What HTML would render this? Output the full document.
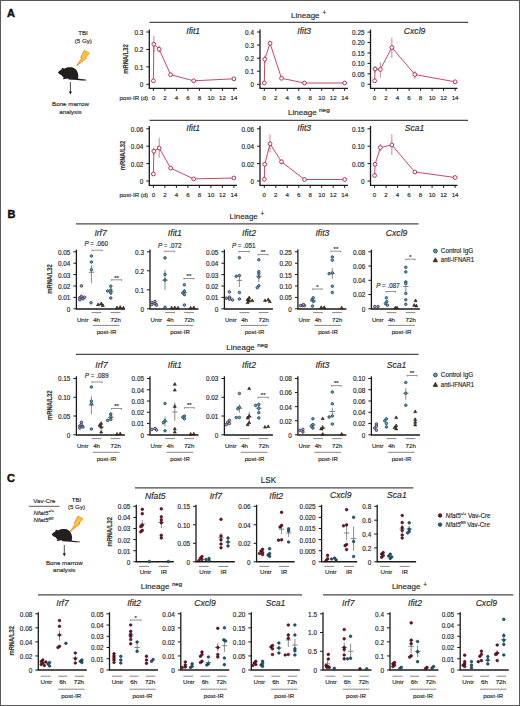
<!DOCTYPE html>
<html><head><meta charset="utf-8"><title>Figure</title>
<style>
html,body{margin:0;padding:0;background:#fff;width:520px;height:706px;overflow:hidden;}
svg{display:block;font-family:"Liberation Sans",sans-serif;}
svg text{stroke:#2b2b2b;stroke-width:0.16px;}
</style></head><body>
<svg width="520" height="706" viewBox="0 0 520 706" font-family='&quot;Liberation Sans&quot;, sans-serif'>
<rect x="0.5" y="0.5" width="519" height="705" fill="#ffffff" stroke="#5a5a5a" stroke-width="1"/>
<text x="7.1" y="16.9" font-size="11" text-anchor="start" fill="#111" font-weight="bold" style="stroke:#111;stroke-width:0.45px">A</text>
<text x="7.4" y="217.7" font-size="11" text-anchor="start" fill="#111" font-weight="bold" style="stroke:#111;stroke-width:0.45px">B</text>
<text x="7" y="482" font-size="11" text-anchor="start" fill="#111" font-weight="bold" style="stroke:#111;stroke-width:0.45px">C</text>
<text x="83" y="35.2" font-size="6.2" text-anchor="middle" fill="#2b2b2b">TBI</text>
<text x="83.3" y="43.2" font-size="6.2" text-anchor="middle" fill="#2b2b2b">(5 Gy)</text>
<g transform="translate(76.4 50.5) scale(1)"><polygon points="7.8,0 12.8,2.6 8.8,7.1 10.0,7.6 0.3,15.2 5.4,7.6 4.3,7.1" fill="#fcc436" stroke="#f08a1c" stroke-width="0.9" stroke-linejoin="round"/></g>
<g transform="translate(58 72.6) scale(1)"><path d="M0 0 C0.8 -1.4 2.2 -2.2 3.6 -3.0 L3.8 -4.3 C4.6 -4.8 5.6 -4.6 6.2 -3.9 C8.5 -5.2 11 -5.6 13.4 -5.3 C17 -4.8 19.6 -2.2 20.2 2.2 C20.5 3.6 20.3 5.0 19.8 6.0 C21.5 6.4 24 6.6 27.8 7.0 L28.4 7.9 C25 7.8 22 7.7 19.2 7.3 C16 7.3 13 7.1 10.5 6.9 L10.2 5.9 C9 6.0 7.6 6.1 6.6 6.3 L5.2 6.6 L4.9 5.9 L6.0 5.5 C5 4.6 4.2 3.6 3.6 2.6 C2.2 2.2 0.9 1.6 0 0 Z" fill="#231f20"/></g>
<line x1="70.4" y1="82" x2="70.4" y2="92.1" stroke="#222" stroke-width="0.8"/>
<polygon points="68.8,91.4 72,91.4 70.4,94.6" fill="#222"/>
<text x="70.5" y="106.2" font-size="6.2" text-anchor="middle" fill="#2b2b2b">Bone marrow</text>
<text x="70.5" y="114" font-size="6.2" text-anchor="middle" fill="#2b2b2b">analysis</text>
<text x="44.4" y="502.7" font-size="6.2" text-anchor="middle" fill="#2b2b2b">Vav-Cre</text>
<line x1="28.8" y1="506.3" x2="59.5" y2="506.3" stroke="#333" stroke-width="0.8"/>
<text x="33.6" y="514.6" font-size="6.2" font-style="italic" fill="#2b2b2b">Nfat5<tspan font-size="3.8" dy="-2.4" font-style="normal">+/+</tspan></text>
<text x="33.6" y="522.2" font-size="6.2" font-style="italic" fill="#2b2b2b">Nfat5<tspan font-size="3.8" dy="-2.4">fl/fl</tspan></text>
<text x="76.5" y="501.8" font-size="6.2" text-anchor="middle" fill="#2b2b2b">TBI</text>
<text x="76.5" y="509.3" font-size="6.2" text-anchor="middle" fill="#2b2b2b">(5 Gy)</text>
<g transform="translate(70 516.2) scale(1)"><polygon points="7.8,0 12.8,2.6 8.8,7.1 10.0,7.6 0.3,15.2 5.4,7.6 4.3,7.1" fill="#fcc436" stroke="#f08a1c" stroke-width="0.9" stroke-linejoin="round"/></g>
<g transform="translate(51.8 534.4) scale(1)"><path d="M0 0 C0.8 -1.4 2.2 -2.2 3.6 -3.0 L3.8 -4.3 C4.6 -4.8 5.6 -4.6 6.2 -3.9 C8.5 -5.2 11 -5.6 13.4 -5.3 C17 -4.8 19.6 -2.2 20.2 2.2 C20.5 3.6 20.3 5.0 19.8 6.0 C21.5 6.4 24 6.6 27.8 7.0 L28.4 7.9 C25 7.8 22 7.7 19.2 7.3 C16 7.3 13 7.1 10.5 6.9 L10.2 5.9 C9 6.0 7.6 6.1 6.6 6.3 L5.2 6.6 L4.9 5.9 L6.0 5.5 C5 4.6 4.2 3.6 3.6 2.6 C2.2 2.2 0.9 1.6 0 0 Z" fill="#231f20"/></g>
<line x1="64.3" y1="545" x2="64.3" y2="554" stroke="#222" stroke-width="0.8"/>
<polygon points="62.7,553.3 65.9,553.3 64.3,556.5" fill="#222"/>
<text x="64.3" y="564.8" font-size="6.2" text-anchor="middle" fill="#2b2b2b">Bone marrow</text>
<text x="64.3" y="572.3" font-size="6.2" text-anchor="middle" fill="#2b2b2b">analysis</text>
<line x1="149.5" y1="22.4" x2="468" y2="22.4" stroke="#4a4a4a" stroke-width="1.3"/>
<text x="291" y="17.6" font-size="8" text-anchor="start" fill="#2b2b2b" textLength="28.6" lengthAdjust="spacingAndGlyphs">Lineage</text>
<text x="322.4" y="15.2" font-size="6.5" text-anchor="start" fill="#2b2b2b">+</text>
<text x="0" y="0" font-size="6.6" font-weight="bold" fill="#3a3a3a" text-anchor="middle" textLength="29.5" lengthAdjust="spacingAndGlyphs" transform="translate(128.18 59) rotate(-90)">mRNA/L32</text>
<line x1="149.3" y1="29.6" x2="149.3" y2="88.3" stroke="#1a1a1a" stroke-width="1.3"/>
<line x1="146.3" y1="84.3" x2="149.3" y2="84.3" stroke="#1a1a1a" stroke-width="1"/>
<text x="143.3" y="87.2" font-size="6.4" text-anchor="end" fill="#2b2b2b">0</text>
<line x1="146.3" y1="66.87" x2="149.3" y2="66.87" stroke="#1a1a1a" stroke-width="1"/>
<text x="143.3" y="69.77" font-size="6.4" text-anchor="end" fill="#2b2b2b">0.1</text>
<line x1="146.3" y1="49.43" x2="149.3" y2="49.43" stroke="#1a1a1a" stroke-width="1"/>
<text x="143.3" y="52.34" font-size="6.4" text-anchor="end" fill="#2b2b2b">0.2</text>
<line x1="146.3" y1="32" x2="149.3" y2="32" stroke="#1a1a1a" stroke-width="1"/>
<text x="143.3" y="34.9" font-size="6.4" text-anchor="end" fill="#2b2b2b">0.3</text>
<line x1="148.7" y1="88.3" x2="237" y2="88.3" stroke="#1a1a1a" stroke-width="1.3"/>
<line x1="153.4" y1="88.3" x2="153.4" y2="90.9" stroke="#1a1a1a" stroke-width="1"/>
<text x="153.4" y="99.7" font-size="6.2" text-anchor="middle" fill="#2b2b2b">0</text>
<line x1="164.9" y1="88.3" x2="164.9" y2="90.9" stroke="#1a1a1a" stroke-width="1"/>
<text x="164.9" y="99.7" font-size="6.2" text-anchor="middle" fill="#2b2b2b">2</text>
<line x1="176.4" y1="88.3" x2="176.4" y2="90.9" stroke="#1a1a1a" stroke-width="1"/>
<text x="176.4" y="99.7" font-size="6.2" text-anchor="middle" fill="#2b2b2b">4</text>
<line x1="187.9" y1="88.3" x2="187.9" y2="90.9" stroke="#1a1a1a" stroke-width="1"/>
<text x="187.9" y="99.7" font-size="6.2" text-anchor="middle" fill="#2b2b2b">6</text>
<line x1="199.4" y1="88.3" x2="199.4" y2="90.9" stroke="#1a1a1a" stroke-width="1"/>
<text x="199.4" y="99.7" font-size="6.2" text-anchor="middle" fill="#2b2b2b">8</text>
<line x1="210.9" y1="88.3" x2="210.9" y2="90.9" stroke="#1a1a1a" stroke-width="1"/>
<text x="210.9" y="99.7" font-size="6.2" text-anchor="middle" fill="#2b2b2b">10</text>
<line x1="222.4" y1="88.3" x2="222.4" y2="90.9" stroke="#1a1a1a" stroke-width="1"/>
<text x="222.4" y="99.7" font-size="6.2" text-anchor="middle" fill="#2b2b2b">12</text>
<line x1="233.9" y1="88.3" x2="233.9" y2="90.9" stroke="#1a1a1a" stroke-width="1"/>
<text x="233.9" y="99.7" font-size="6.2" text-anchor="middle" fill="#2b2b2b">14</text>
<text x="148.1" y="99.7" font-size="6.2" text-anchor="end" fill="#2b2b2b" textLength="28.6" lengthAdjust="spacingAndGlyphs">post-IR (d)</text>
<text x="193.2" y="33.5" font-size="8.6" text-anchor="middle" fill="#2b2b2b" font-style="italic">Ifit1</text>
<line x1="153.86" y1="36" x2="153.86" y2="52.5" stroke="#b8707c" stroke-width="0.85"/>
<line x1="159.15" y1="45.5" x2="159.15" y2="52.7" stroke="#b8707c" stroke-width="0.85"/>
<polyline points="153.4,80.8 153.86,44.2 159.15,49.2 170.65,74.7 193.65,80.8 233.9,78.8" fill="none" stroke="#c2344e" stroke-width="0.9"/>
<circle cx="153.4" cy="80.8" r="1.9" fill="#ffffff" stroke="#b52a44" stroke-width="0.95"/>
<circle cx="153.86" cy="44.2" r="1.9" fill="#ffffff" stroke="#b52a44" stroke-width="0.95"/>
<circle cx="159.15" cy="49.2" r="1.9" fill="#ffffff" stroke="#b52a44" stroke-width="0.95"/>
<circle cx="170.65" cy="74.7" r="1.9" fill="#ffffff" stroke="#b52a44" stroke-width="0.95"/>
<circle cx="193.65" cy="80.8" r="1.9" fill="#ffffff" stroke="#b52a44" stroke-width="0.95"/>
<circle cx="233.9" cy="78.8" r="1.9" fill="#ffffff" stroke="#b52a44" stroke-width="0.95"/>
<line x1="260" y1="29.6" x2="260" y2="88.3" stroke="#1a1a1a" stroke-width="1.3"/>
<line x1="257" y1="84.3" x2="260" y2="84.3" stroke="#1a1a1a" stroke-width="1"/>
<text x="254" y="87.2" font-size="6.4" text-anchor="end" fill="#2b2b2b">0</text>
<line x1="257" y1="71.22" x2="260" y2="71.22" stroke="#1a1a1a" stroke-width="1"/>
<text x="254" y="74.13" font-size="6.4" text-anchor="end" fill="#2b2b2b">0.1</text>
<line x1="257" y1="58.15" x2="260" y2="58.15" stroke="#1a1a1a" stroke-width="1"/>
<text x="254" y="61.05" font-size="6.4" text-anchor="end" fill="#2b2b2b">0.2</text>
<line x1="257" y1="45.08" x2="260" y2="45.08" stroke="#1a1a1a" stroke-width="1"/>
<text x="254" y="47.98" font-size="6.4" text-anchor="end" fill="#2b2b2b">0.3</text>
<line x1="257" y1="32" x2="260" y2="32" stroke="#1a1a1a" stroke-width="1"/>
<text x="254" y="34.9" font-size="6.4" text-anchor="end" fill="#2b2b2b">0.4</text>
<line x1="259.4" y1="88.3" x2="348" y2="88.3" stroke="#1a1a1a" stroke-width="1.3"/>
<line x1="264.3" y1="88.3" x2="264.3" y2="90.9" stroke="#1a1a1a" stroke-width="1"/>
<text x="264.3" y="99.7" font-size="6.2" text-anchor="middle" fill="#2b2b2b">0</text>
<line x1="275.78" y1="88.3" x2="275.78" y2="90.9" stroke="#1a1a1a" stroke-width="1"/>
<text x="275.78" y="99.7" font-size="6.2" text-anchor="middle" fill="#2b2b2b">2</text>
<line x1="287.26" y1="88.3" x2="287.26" y2="90.9" stroke="#1a1a1a" stroke-width="1"/>
<text x="287.26" y="99.7" font-size="6.2" text-anchor="middle" fill="#2b2b2b">4</text>
<line x1="298.74" y1="88.3" x2="298.74" y2="90.9" stroke="#1a1a1a" stroke-width="1"/>
<text x="298.74" y="99.7" font-size="6.2" text-anchor="middle" fill="#2b2b2b">6</text>
<line x1="310.22" y1="88.3" x2="310.22" y2="90.9" stroke="#1a1a1a" stroke-width="1"/>
<text x="310.22" y="99.7" font-size="6.2" text-anchor="middle" fill="#2b2b2b">8</text>
<line x1="321.7" y1="88.3" x2="321.7" y2="90.9" stroke="#1a1a1a" stroke-width="1"/>
<text x="321.7" y="99.7" font-size="6.2" text-anchor="middle" fill="#2b2b2b">10</text>
<line x1="333.18" y1="88.3" x2="333.18" y2="90.9" stroke="#1a1a1a" stroke-width="1"/>
<text x="333.18" y="99.7" font-size="6.2" text-anchor="middle" fill="#2b2b2b">12</text>
<line x1="344.66" y1="88.3" x2="344.66" y2="90.9" stroke="#1a1a1a" stroke-width="1"/>
<text x="344.66" y="99.7" font-size="6.2" text-anchor="middle" fill="#2b2b2b">14</text>
<text x="304.2" y="33.5" font-size="8.6" text-anchor="middle" fill="#2b2b2b" font-style="italic">Ifit3</text>
<line x1="264.76" y1="55.5" x2="264.76" y2="63" stroke="#b8707c" stroke-width="0.85"/>
<line x1="270.04" y1="40.5" x2="270.04" y2="46" stroke="#b8707c" stroke-width="0.85"/>
<polyline points="264.3,83 264.76,59.3 270.04,43.3 281.52,78.3 304.48,83 344.66,83" fill="none" stroke="#c2344e" stroke-width="0.9"/>
<circle cx="264.3" cy="83" r="1.9" fill="#ffffff" stroke="#b52a44" stroke-width="0.95"/>
<circle cx="264.76" cy="59.3" r="1.9" fill="#ffffff" stroke="#b52a44" stroke-width="0.95"/>
<circle cx="270.04" cy="43.3" r="1.9" fill="#ffffff" stroke="#b52a44" stroke-width="0.95"/>
<circle cx="281.52" cy="78.3" r="1.9" fill="#ffffff" stroke="#b52a44" stroke-width="0.95"/>
<circle cx="304.48" cy="83" r="1.9" fill="#ffffff" stroke="#b52a44" stroke-width="0.95"/>
<circle cx="344.66" cy="83" r="1.9" fill="#ffffff" stroke="#b52a44" stroke-width="0.95"/>
<line x1="370.5" y1="29.6" x2="370.5" y2="88.3" stroke="#1a1a1a" stroke-width="1.3"/>
<line x1="367.5" y1="84.3" x2="370.5" y2="84.3" stroke="#1a1a1a" stroke-width="1"/>
<text x="364.5" y="87.2" font-size="6.4" text-anchor="end" fill="#2b2b2b">0</text>
<line x1="367.5" y1="73.86" x2="370.5" y2="73.86" stroke="#1a1a1a" stroke-width="1"/>
<text x="364.5" y="76.76" font-size="6.4" text-anchor="end" fill="#2b2b2b">0.05</text>
<line x1="367.5" y1="63.42" x2="370.5" y2="63.42" stroke="#1a1a1a" stroke-width="1"/>
<text x="364.5" y="66.32" font-size="6.4" text-anchor="end" fill="#2b2b2b">0.10</text>
<line x1="367.5" y1="52.98" x2="370.5" y2="52.98" stroke="#1a1a1a" stroke-width="1"/>
<text x="364.5" y="55.88" font-size="6.4" text-anchor="end" fill="#2b2b2b">0.15</text>
<line x1="367.5" y1="42.54" x2="370.5" y2="42.54" stroke="#1a1a1a" stroke-width="1"/>
<text x="364.5" y="45.44" font-size="6.4" text-anchor="end" fill="#2b2b2b">0.20</text>
<line x1="367.5" y1="32.1" x2="370.5" y2="32.1" stroke="#1a1a1a" stroke-width="1"/>
<text x="364.5" y="35" font-size="6.4" text-anchor="end" fill="#2b2b2b">0.25</text>
<line x1="369.9" y1="88.3" x2="457.5" y2="88.3" stroke="#1a1a1a" stroke-width="1.3"/>
<line x1="374.6" y1="88.3" x2="374.6" y2="90.9" stroke="#1a1a1a" stroke-width="1"/>
<text x="374.6" y="99.7" font-size="6.2" text-anchor="middle" fill="#2b2b2b">0</text>
<line x1="386.1" y1="88.3" x2="386.1" y2="90.9" stroke="#1a1a1a" stroke-width="1"/>
<text x="386.1" y="99.7" font-size="6.2" text-anchor="middle" fill="#2b2b2b">2</text>
<line x1="397.6" y1="88.3" x2="397.6" y2="90.9" stroke="#1a1a1a" stroke-width="1"/>
<text x="397.6" y="99.7" font-size="6.2" text-anchor="middle" fill="#2b2b2b">4</text>
<line x1="409.1" y1="88.3" x2="409.1" y2="90.9" stroke="#1a1a1a" stroke-width="1"/>
<text x="409.1" y="99.7" font-size="6.2" text-anchor="middle" fill="#2b2b2b">6</text>
<line x1="420.6" y1="88.3" x2="420.6" y2="90.9" stroke="#1a1a1a" stroke-width="1"/>
<text x="420.6" y="99.7" font-size="6.2" text-anchor="middle" fill="#2b2b2b">8</text>
<line x1="432.1" y1="88.3" x2="432.1" y2="90.9" stroke="#1a1a1a" stroke-width="1"/>
<text x="432.1" y="99.7" font-size="6.2" text-anchor="middle" fill="#2b2b2b">10</text>
<line x1="443.6" y1="88.3" x2="443.6" y2="90.9" stroke="#1a1a1a" stroke-width="1"/>
<text x="443.6" y="99.7" font-size="6.2" text-anchor="middle" fill="#2b2b2b">12</text>
<line x1="455.1" y1="88.3" x2="455.1" y2="90.9" stroke="#1a1a1a" stroke-width="1"/>
<text x="455.1" y="99.7" font-size="6.2" text-anchor="middle" fill="#2b2b2b">14</text>
<text x="414.6" y="33.5" font-size="8.6" text-anchor="middle" fill="#2b2b2b" font-style="italic">Cxcl9</text>
<line x1="375.06" y1="66" x2="375.06" y2="72.5" stroke="#b8707c" stroke-width="0.85"/>
<line x1="380.35" y1="62.5" x2="380.35" y2="77.5" stroke="#b8707c" stroke-width="0.85"/>
<line x1="391.85" y1="37.8" x2="391.85" y2="57.8" stroke="#b8707c" stroke-width="0.85"/>
<line x1="414.85" y1="71" x2="414.85" y2="79" stroke="#b8707c" stroke-width="0.85"/>
<polyline points="374.6,80.8 375.06,69 380.35,69.5 391.85,47.5 414.85,74.5 455.1,81.8" fill="none" stroke="#c2344e" stroke-width="0.9"/>
<circle cx="374.6" cy="80.8" r="1.9" fill="#ffffff" stroke="#b52a44" stroke-width="0.95"/>
<circle cx="375.06" cy="69" r="1.9" fill="#ffffff" stroke="#b52a44" stroke-width="0.95"/>
<circle cx="380.35" cy="69.5" r="1.9" fill="#ffffff" stroke="#b52a44" stroke-width="0.95"/>
<circle cx="391.85" cy="47.5" r="1.9" fill="#ffffff" stroke="#b52a44" stroke-width="0.95"/>
<circle cx="414.85" cy="74.5" r="1.9" fill="#ffffff" stroke="#b52a44" stroke-width="0.95"/>
<circle cx="455.1" cy="81.8" r="1.9" fill="#ffffff" stroke="#b52a44" stroke-width="0.95"/>
<line x1="149.5" y1="120.3" x2="468" y2="120.3" stroke="#4a4a4a" stroke-width="1.3"/>
<text x="288.1" y="115.1" font-size="8" text-anchor="start" fill="#2b2b2b" textLength="28.6" lengthAdjust="spacingAndGlyphs">Lineage</text>
<text x="319.1" y="112.1" font-size="5" text-anchor="start" fill="#2b2b2b" textLength="10.6" lengthAdjust="spacingAndGlyphs">neg</text>
<text x="0" y="0" font-size="6.6" font-weight="bold" fill="#3a3a3a" text-anchor="middle" textLength="29.5" lengthAdjust="spacingAndGlyphs" transform="translate(124.78 155.5) rotate(-90)">mRNA/L32</text>
<line x1="149.3" y1="126" x2="149.3" y2="185.3" stroke="#1a1a1a" stroke-width="1.3"/>
<line x1="146.3" y1="181" x2="149.3" y2="181" stroke="#1a1a1a" stroke-width="1"/>
<text x="143.3" y="183.9" font-size="6.4" text-anchor="end" fill="#2b2b2b">0</text>
<line x1="146.3" y1="163.6" x2="149.3" y2="163.6" stroke="#1a1a1a" stroke-width="1"/>
<text x="143.3" y="166.5" font-size="6.4" text-anchor="end" fill="#2b2b2b">0.02</text>
<line x1="146.3" y1="146.2" x2="149.3" y2="146.2" stroke="#1a1a1a" stroke-width="1"/>
<text x="143.3" y="149.1" font-size="6.4" text-anchor="end" fill="#2b2b2b">0.04</text>
<line x1="146.3" y1="128.8" x2="149.3" y2="128.8" stroke="#1a1a1a" stroke-width="1"/>
<text x="143.3" y="131.7" font-size="6.4" text-anchor="end" fill="#2b2b2b">0.06</text>
<line x1="148.7" y1="185.3" x2="237" y2="185.3" stroke="#1a1a1a" stroke-width="1.3"/>
<line x1="153.4" y1="185.3" x2="153.4" y2="187.9" stroke="#1a1a1a" stroke-width="1"/>
<text x="153.4" y="196.7" font-size="6.2" text-anchor="middle" fill="#2b2b2b">0</text>
<line x1="164.9" y1="185.3" x2="164.9" y2="187.9" stroke="#1a1a1a" stroke-width="1"/>
<text x="164.9" y="196.7" font-size="6.2" text-anchor="middle" fill="#2b2b2b">2</text>
<line x1="176.4" y1="185.3" x2="176.4" y2="187.9" stroke="#1a1a1a" stroke-width="1"/>
<text x="176.4" y="196.7" font-size="6.2" text-anchor="middle" fill="#2b2b2b">4</text>
<line x1="187.9" y1="185.3" x2="187.9" y2="187.9" stroke="#1a1a1a" stroke-width="1"/>
<text x="187.9" y="196.7" font-size="6.2" text-anchor="middle" fill="#2b2b2b">6</text>
<line x1="199.4" y1="185.3" x2="199.4" y2="187.9" stroke="#1a1a1a" stroke-width="1"/>
<text x="199.4" y="196.7" font-size="6.2" text-anchor="middle" fill="#2b2b2b">8</text>
<line x1="210.9" y1="185.3" x2="210.9" y2="187.9" stroke="#1a1a1a" stroke-width="1"/>
<text x="210.9" y="196.7" font-size="6.2" text-anchor="middle" fill="#2b2b2b">10</text>
<line x1="222.4" y1="185.3" x2="222.4" y2="187.9" stroke="#1a1a1a" stroke-width="1"/>
<text x="222.4" y="196.7" font-size="6.2" text-anchor="middle" fill="#2b2b2b">12</text>
<line x1="233.9" y1="185.3" x2="233.9" y2="187.9" stroke="#1a1a1a" stroke-width="1"/>
<text x="233.9" y="196.7" font-size="6.2" text-anchor="middle" fill="#2b2b2b">14</text>
<text x="148.1" y="196.7" font-size="6.2" text-anchor="end" fill="#2b2b2b" textLength="28.6" lengthAdjust="spacingAndGlyphs">post-IR (d)</text>
<text x="193.2" y="130.9" font-size="8.6" text-anchor="middle" fill="#2b2b2b" font-style="italic">Ifit1</text>
<line x1="153.86" y1="147.5" x2="153.86" y2="155" stroke="#b8707c" stroke-width="0.85"/>
<line x1="159.15" y1="137.7" x2="159.15" y2="157.9" stroke="#b8707c" stroke-width="0.85"/>
<line x1="170.65" y1="166.3" x2="170.65" y2="170" stroke="#b8707c" stroke-width="0.85"/>
<polyline points="153.4,174 153.86,151.2 159.15,148 170.65,168.1 193.65,178.9 233.9,178" fill="none" stroke="#c2344e" stroke-width="0.9"/>
<circle cx="153.4" cy="174" r="1.9" fill="#ffffff" stroke="#b52a44" stroke-width="0.95"/>
<circle cx="153.86" cy="151.2" r="1.9" fill="#ffffff" stroke="#b52a44" stroke-width="0.95"/>
<circle cx="159.15" cy="148" r="1.9" fill="#ffffff" stroke="#b52a44" stroke-width="0.95"/>
<circle cx="170.65" cy="168.1" r="1.9" fill="#ffffff" stroke="#b52a44" stroke-width="0.95"/>
<circle cx="193.65" cy="178.9" r="1.9" fill="#ffffff" stroke="#b52a44" stroke-width="0.95"/>
<circle cx="233.9" cy="178" r="1.9" fill="#ffffff" stroke="#b52a44" stroke-width="0.95"/>
<line x1="260" y1="126" x2="260" y2="185.3" stroke="#1a1a1a" stroke-width="1.3"/>
<line x1="257" y1="181" x2="260" y2="181" stroke="#1a1a1a" stroke-width="1"/>
<text x="254" y="183.9" font-size="6.4" text-anchor="end" fill="#2b2b2b">0</text>
<line x1="257" y1="163.6" x2="260" y2="163.6" stroke="#1a1a1a" stroke-width="1"/>
<text x="254" y="166.5" font-size="6.4" text-anchor="end" fill="#2b2b2b">0.02</text>
<line x1="257" y1="146.2" x2="260" y2="146.2" stroke="#1a1a1a" stroke-width="1"/>
<text x="254" y="149.1" font-size="6.4" text-anchor="end" fill="#2b2b2b">0.04</text>
<line x1="257" y1="128.8" x2="260" y2="128.8" stroke="#1a1a1a" stroke-width="1"/>
<text x="254" y="131.7" font-size="6.4" text-anchor="end" fill="#2b2b2b">0.06</text>
<line x1="259.4" y1="185.3" x2="348" y2="185.3" stroke="#1a1a1a" stroke-width="1.3"/>
<line x1="264.3" y1="185.3" x2="264.3" y2="187.9" stroke="#1a1a1a" stroke-width="1"/>
<text x="264.3" y="196.7" font-size="6.2" text-anchor="middle" fill="#2b2b2b">0</text>
<line x1="275.78" y1="185.3" x2="275.78" y2="187.9" stroke="#1a1a1a" stroke-width="1"/>
<text x="275.78" y="196.7" font-size="6.2" text-anchor="middle" fill="#2b2b2b">2</text>
<line x1="287.26" y1="185.3" x2="287.26" y2="187.9" stroke="#1a1a1a" stroke-width="1"/>
<text x="287.26" y="196.7" font-size="6.2" text-anchor="middle" fill="#2b2b2b">4</text>
<line x1="298.74" y1="185.3" x2="298.74" y2="187.9" stroke="#1a1a1a" stroke-width="1"/>
<text x="298.74" y="196.7" font-size="6.2" text-anchor="middle" fill="#2b2b2b">6</text>
<line x1="310.22" y1="185.3" x2="310.22" y2="187.9" stroke="#1a1a1a" stroke-width="1"/>
<text x="310.22" y="196.7" font-size="6.2" text-anchor="middle" fill="#2b2b2b">8</text>
<line x1="321.7" y1="185.3" x2="321.7" y2="187.9" stroke="#1a1a1a" stroke-width="1"/>
<text x="321.7" y="196.7" font-size="6.2" text-anchor="middle" fill="#2b2b2b">10</text>
<line x1="333.18" y1="185.3" x2="333.18" y2="187.9" stroke="#1a1a1a" stroke-width="1"/>
<text x="333.18" y="196.7" font-size="6.2" text-anchor="middle" fill="#2b2b2b">12</text>
<line x1="344.66" y1="185.3" x2="344.66" y2="187.9" stroke="#1a1a1a" stroke-width="1"/>
<text x="344.66" y="196.7" font-size="6.2" text-anchor="middle" fill="#2b2b2b">14</text>
<text x="304.2" y="130.9" font-size="8.6" text-anchor="middle" fill="#2b2b2b" font-style="italic">Ifit3</text>
<line x1="264.76" y1="162" x2="264.76" y2="166.5" stroke="#b8707c" stroke-width="0.85"/>
<line x1="270.04" y1="134.5" x2="270.04" y2="152.5" stroke="#b8707c" stroke-width="0.85"/>
<line x1="281.52" y1="159.5" x2="281.52" y2="164.5" stroke="#b8707c" stroke-width="0.85"/>
<polyline points="264.3,179.3 264.76,164.3 270.04,143.8 281.52,161.8 304.48,179.5 344.66,179.5" fill="none" stroke="#c2344e" stroke-width="0.9"/>
<circle cx="264.3" cy="179.3" r="1.9" fill="#ffffff" stroke="#b52a44" stroke-width="0.95"/>
<circle cx="264.76" cy="164.3" r="1.9" fill="#ffffff" stroke="#b52a44" stroke-width="0.95"/>
<circle cx="270.04" cy="143.8" r="1.9" fill="#ffffff" stroke="#b52a44" stroke-width="0.95"/>
<circle cx="281.52" cy="161.8" r="1.9" fill="#ffffff" stroke="#b52a44" stroke-width="0.95"/>
<circle cx="304.48" cy="179.5" r="1.9" fill="#ffffff" stroke="#b52a44" stroke-width="0.95"/>
<circle cx="344.66" cy="179.5" r="1.9" fill="#ffffff" stroke="#b52a44" stroke-width="0.95"/>
<line x1="370.5" y1="126" x2="370.5" y2="185.3" stroke="#1a1a1a" stroke-width="1.3"/>
<line x1="367.5" y1="181" x2="370.5" y2="181" stroke="#1a1a1a" stroke-width="1"/>
<text x="364.5" y="183.9" font-size="6.4" text-anchor="end" fill="#2b2b2b">0</text>
<line x1="367.5" y1="163.6" x2="370.5" y2="163.6" stroke="#1a1a1a" stroke-width="1"/>
<text x="364.5" y="166.5" font-size="6.4" text-anchor="end" fill="#2b2b2b">0.05</text>
<line x1="367.5" y1="146.2" x2="370.5" y2="146.2" stroke="#1a1a1a" stroke-width="1"/>
<text x="364.5" y="149.1" font-size="6.4" text-anchor="end" fill="#2b2b2b">0.10</text>
<line x1="367.5" y1="128.8" x2="370.5" y2="128.8" stroke="#1a1a1a" stroke-width="1"/>
<text x="364.5" y="131.7" font-size="6.4" text-anchor="end" fill="#2b2b2b">0.15</text>
<line x1="369.9" y1="185.3" x2="457.5" y2="185.3" stroke="#1a1a1a" stroke-width="1.3"/>
<line x1="374.6" y1="185.3" x2="374.6" y2="187.9" stroke="#1a1a1a" stroke-width="1"/>
<text x="374.6" y="196.7" font-size="6.2" text-anchor="middle" fill="#2b2b2b">0</text>
<line x1="386.1" y1="185.3" x2="386.1" y2="187.9" stroke="#1a1a1a" stroke-width="1"/>
<text x="386.1" y="196.7" font-size="6.2" text-anchor="middle" fill="#2b2b2b">2</text>
<line x1="397.6" y1="185.3" x2="397.6" y2="187.9" stroke="#1a1a1a" stroke-width="1"/>
<text x="397.6" y="196.7" font-size="6.2" text-anchor="middle" fill="#2b2b2b">4</text>
<line x1="409.1" y1="185.3" x2="409.1" y2="187.9" stroke="#1a1a1a" stroke-width="1"/>
<text x="409.1" y="196.7" font-size="6.2" text-anchor="middle" fill="#2b2b2b">6</text>
<line x1="420.6" y1="185.3" x2="420.6" y2="187.9" stroke="#1a1a1a" stroke-width="1"/>
<text x="420.6" y="196.7" font-size="6.2" text-anchor="middle" fill="#2b2b2b">8</text>
<line x1="432.1" y1="185.3" x2="432.1" y2="187.9" stroke="#1a1a1a" stroke-width="1"/>
<text x="432.1" y="196.7" font-size="6.2" text-anchor="middle" fill="#2b2b2b">10</text>
<line x1="443.6" y1="185.3" x2="443.6" y2="187.9" stroke="#1a1a1a" stroke-width="1"/>
<text x="443.6" y="196.7" font-size="6.2" text-anchor="middle" fill="#2b2b2b">12</text>
<line x1="455.1" y1="185.3" x2="455.1" y2="187.9" stroke="#1a1a1a" stroke-width="1"/>
<text x="455.1" y="196.7" font-size="6.2" text-anchor="middle" fill="#2b2b2b">14</text>
<text x="414.6" y="130.9" font-size="8.6" text-anchor="middle" fill="#2b2b2b" font-style="italic">Sca1</text>
<line x1="380.35" y1="143.8" x2="380.35" y2="151.3" stroke="#b8707c" stroke-width="0.85"/>
<line x1="391.85" y1="134.3" x2="391.85" y2="155" stroke="#b8707c" stroke-width="0.85"/>
<line x1="414.85" y1="170" x2="414.85" y2="174" stroke="#b8707c" stroke-width="0.85"/>
<polyline points="374.6,175.5 375.06,164.3 380.35,147.5 391.85,145 414.85,172 455.1,177.5" fill="none" stroke="#c2344e" stroke-width="0.9"/>
<circle cx="374.6" cy="175.5" r="1.9" fill="#ffffff" stroke="#b52a44" stroke-width="0.95"/>
<circle cx="375.06" cy="164.3" r="1.9" fill="#ffffff" stroke="#b52a44" stroke-width="0.95"/>
<circle cx="380.35" cy="147.5" r="1.9" fill="#ffffff" stroke="#b52a44" stroke-width="0.95"/>
<circle cx="391.85" cy="145" r="1.9" fill="#ffffff" stroke="#b52a44" stroke-width="0.95"/>
<circle cx="414.85" cy="172" r="1.9" fill="#ffffff" stroke="#b52a44" stroke-width="0.95"/>
<circle cx="455.1" cy="177.5" r="1.9" fill="#ffffff" stroke="#b52a44" stroke-width="0.95"/>
<line x1="76" y1="223.9" x2="418.5" y2="223.9" stroke="#4a4a4a" stroke-width="1.3"/>
<text x="229.6" y="218.6" font-size="8" text-anchor="start" fill="#2b2b2b" textLength="28.1" lengthAdjust="spacingAndGlyphs">Lineage</text>
<text x="260.6" y="216" font-size="6.5" text-anchor="start" fill="#2b2b2b">+</text>
<text x="0" y="0" font-size="6.6" font-weight="bold" fill="#3a3a3a" text-anchor="middle" textLength="29.5" lengthAdjust="spacingAndGlyphs" transform="translate(52.18 279) rotate(-90)">mRNA/L32</text>
<line x1="76.4" y1="249.6" x2="76.4" y2="308.8" stroke="#1a1a1a" stroke-width="1.3"/>
<line x1="73.4" y1="308.8" x2="76.4" y2="308.8" stroke="#1a1a1a" stroke-width="1"/>
<text x="70.4" y="311.7" font-size="6.4" text-anchor="end" fill="#2b2b2b">0</text>
<line x1="73.4" y1="297.4" x2="76.4" y2="297.4" stroke="#1a1a1a" stroke-width="1"/>
<text x="70.4" y="300.3" font-size="6.4" text-anchor="end" fill="#2b2b2b">0.01</text>
<line x1="73.4" y1="286" x2="76.4" y2="286" stroke="#1a1a1a" stroke-width="1"/>
<text x="70.4" y="288.9" font-size="6.4" text-anchor="end" fill="#2b2b2b">0.02</text>
<line x1="73.4" y1="274.6" x2="76.4" y2="274.6" stroke="#1a1a1a" stroke-width="1"/>
<text x="70.4" y="277.5" font-size="6.4" text-anchor="end" fill="#2b2b2b">0.03</text>
<line x1="73.4" y1="263.2" x2="76.4" y2="263.2" stroke="#1a1a1a" stroke-width="1"/>
<text x="70.4" y="266.1" font-size="6.4" text-anchor="end" fill="#2b2b2b">0.04</text>
<line x1="73.4" y1="251.8" x2="76.4" y2="251.8" stroke="#1a1a1a" stroke-width="1"/>
<text x="70.4" y="254.7" font-size="6.4" text-anchor="end" fill="#2b2b2b">0.05</text>
<line x1="75.8" y1="309" x2="124.9" y2="309" stroke="#1a1a1a" stroke-width="1.4"/>
<text x="100.6" y="235.6" font-size="8.6" text-anchor="middle" fill="#2b2b2b" font-style="italic">Irf7</text>
<line x1="81.4" y1="294.5" x2="81.4" y2="299.5" stroke="#6e6e6e" stroke-width="0.8"/>
<line x1="78.6" y1="297" x2="84.2" y2="297" stroke="#6e6e6e" stroke-width="0.8"/>
<circle cx="81.4" cy="285.9" r="1.3" fill="#aaa4c4" stroke="#2c2846" stroke-width="0.75"/>
<circle cx="81.4" cy="296.5" r="1.3" fill="#aaa4c4" stroke="#2c2846" stroke-width="0.75"/>
<circle cx="79.81" cy="297.8" r="1.3" fill="#aaa4c4" stroke="#2c2846" stroke-width="0.75"/>
<circle cx="82.99" cy="298.8" r="1.3" fill="#aaa4c4" stroke="#2c2846" stroke-width="0.75"/>
<circle cx="79.81" cy="299.8" r="1.3" fill="#aaa4c4" stroke="#2c2846" stroke-width="0.75"/>
<circle cx="84.57" cy="297.2" r="1.3" fill="#aaa4c4" stroke="#2c2846" stroke-width="0.75"/>
<line x1="91.4" y1="265.4" x2="91.4" y2="283.3" stroke="#6e6e6e" stroke-width="0.8"/>
<line x1="88.6" y1="272.3" x2="94.2" y2="272.3" stroke="#6e6e6e" stroke-width="0.8"/>
<circle cx="91.4" cy="256" r="1.3" fill="#5f9cb8" stroke="#1b4252" stroke-width="0.75"/>
<circle cx="91.4" cy="262" r="1.3" fill="#5f9cb8" stroke="#1b4252" stroke-width="0.75"/>
<circle cx="91.4" cy="269.7" r="1.3" fill="#5f9cb8" stroke="#1b4252" stroke-width="0.75"/>
<circle cx="91" cy="302.8" r="1.3" fill="#5f9cb8" stroke="#1b4252" stroke-width="0.75"/>
<line x1="101.2" y1="302.5" x2="101.2" y2="306" stroke="#6e6e6e" stroke-width="0.8"/>
<line x1="98.4" y1="304.3" x2="104" y2="304.3" stroke="#6e6e6e" stroke-width="0.8"/>
<polygon points="101.2,301.98 99.7,304.68 102.7,304.68" fill="#533522" stroke="#20140a" stroke-width="0.6" stroke-linejoin="round"/>
<polygon points="98.03,302.98 96.53,305.68 99.53,305.68" fill="#533522" stroke="#20140a" stroke-width="0.6" stroke-linejoin="round"/>
<polygon points="102.79,303.88 101.29,306.58 104.29,306.58" fill="#533522" stroke="#20140a" stroke-width="0.6" stroke-linejoin="round"/>
<line x1="110.8" y1="288.5" x2="110.8" y2="295" stroke="#6e6e6e" stroke-width="0.8"/>
<line x1="108" y1="291.6" x2="113.6" y2="291.6" stroke="#6e6e6e" stroke-width="0.8"/>
<circle cx="110.8" cy="286.2" r="1.3" fill="#5f9cb8" stroke="#1b4252" stroke-width="0.75"/>
<circle cx="110.8" cy="290" r="1.3" fill="#5f9cb8" stroke="#1b4252" stroke-width="0.75"/>
<circle cx="107.63" cy="291" r="1.3" fill="#5f9cb8" stroke="#1b4252" stroke-width="0.75"/>
<circle cx="110.8" cy="292.9" r="1.3" fill="#5f9cb8" stroke="#1b4252" stroke-width="0.75"/>
<circle cx="110.8" cy="298" r="1.3" fill="#5f9cb8" stroke="#1b4252" stroke-width="0.75"/>
<polygon points="120.2,305.58 118.7,308.28 121.7,308.28" fill="#533522" stroke="#20140a" stroke-width="0.6" stroke-linejoin="round"/>
<polygon points="117.03,305.98 115.53,308.68 118.53,308.68" fill="#533522" stroke="#20140a" stroke-width="0.6" stroke-linejoin="round"/>
<polygon points="123.37,306.28 121.87,308.98 124.87,308.98" fill="#533522" stroke="#20140a" stroke-width="0.6" stroke-linejoin="round"/>
<text x="82.7" y="321.8" font-size="6.1" text-anchor="middle" fill="#2b2b2b">Untr</text>
<text x="96.6" y="321.8" font-size="6.1" text-anchor="middle" fill="#2b2b2b">4h</text>
<text x="115.7" y="321.8" font-size="6.1" text-anchor="middle" fill="#2b2b2b">72h</text>
<line x1="91.6" y1="312.6" x2="101.4" y2="312.6" stroke="#7a7a7a" stroke-width="0.9"/>
<line x1="110.6" y1="312.6" x2="120.4" y2="312.6" stroke="#7a7a7a" stroke-width="0.9"/>
<line x1="92.8" y1="325.4" x2="119.6" y2="325.4" stroke="#7a7a7a" stroke-width="0.9"/>
<text x="106.5" y="334" font-size="6.1" text-anchor="middle" fill="#2b2b2b">post-IR</text>
<line x1="91.6" y1="250.2" x2="102.4" y2="250.2" stroke="#7a7a7a" stroke-width="0.8"/>
<line x1="92" y1="249.9" x2="92" y2="251.3" stroke="#7a7a7a" stroke-width="0.8"/>
<line x1="102" y1="249.9" x2="102" y2="251.3" stroke="#7a7a7a" stroke-width="0.8"/>
<line x1="111.2" y1="279.8" x2="122" y2="279.8" stroke="#7a7a7a" stroke-width="0.8"/>
<line x1="111.6" y1="279.5" x2="111.6" y2="280.9" stroke="#7a7a7a" stroke-width="0.8"/>
<line x1="121.6" y1="279.5" x2="121.6" y2="280.9" stroke="#7a7a7a" stroke-width="0.8"/>
<text x="116.6" y="279.5" font-size="6" text-anchor="middle" fill="#333">**</text>
<text x="96.2" y="246" font-size="6.3" text-anchor="middle" fill="#2b2b2b"><tspan font-style="italic">P</tspan> = .060</text>
<line x1="150" y1="249.6" x2="150" y2="308.8" stroke="#1a1a1a" stroke-width="1.3"/>
<line x1="147" y1="308.8" x2="150" y2="308.8" stroke="#1a1a1a" stroke-width="1"/>
<text x="144" y="311.7" font-size="6.4" text-anchor="end" fill="#2b2b2b">0</text>
<line x1="147" y1="289.8" x2="150" y2="289.8" stroke="#1a1a1a" stroke-width="1"/>
<text x="144" y="292.7" font-size="6.4" text-anchor="end" fill="#2b2b2b">0.1</text>
<line x1="147" y1="270.8" x2="150" y2="270.8" stroke="#1a1a1a" stroke-width="1"/>
<text x="144" y="273.7" font-size="6.4" text-anchor="end" fill="#2b2b2b">0.2</text>
<line x1="147" y1="251.8" x2="150" y2="251.8" stroke="#1a1a1a" stroke-width="1"/>
<text x="144" y="254.7" font-size="6.4" text-anchor="end" fill="#2b2b2b">0.3</text>
<line x1="149.4" y1="309" x2="198.5" y2="309" stroke="#1a1a1a" stroke-width="1.4"/>
<text x="174.8" y="235.6" font-size="8.6" text-anchor="middle" fill="#2b2b2b" font-style="italic">Ifit1</text>
<line x1="155" y1="301" x2="155" y2="305.5" stroke="#6e6e6e" stroke-width="0.8"/>
<line x1="152.2" y1="303.3" x2="157.8" y2="303.3" stroke="#6e6e6e" stroke-width="0.8"/>
<circle cx="155" cy="301.5" r="1.3" fill="#aaa4c4" stroke="#2c2846" stroke-width="0.75"/>
<circle cx="151.83" cy="302.5" r="1.3" fill="#aaa4c4" stroke="#2c2846" stroke-width="0.75"/>
<circle cx="155" cy="303.8" r="1.3" fill="#aaa4c4" stroke="#2c2846" stroke-width="0.75"/>
<circle cx="151.83" cy="304.6" r="1.3" fill="#aaa4c4" stroke="#2c2846" stroke-width="0.75"/>
<circle cx="156.59" cy="305.2" r="1.3" fill="#aaa4c4" stroke="#2c2846" stroke-width="0.75"/>
<line x1="165" y1="269.8" x2="165" y2="290" stroke="#6e6e6e" stroke-width="0.8"/>
<line x1="162.2" y1="280.2" x2="167.8" y2="280.2" stroke="#6e6e6e" stroke-width="0.8"/>
<circle cx="165" cy="257.9" r="1.3" fill="#5f9cb8" stroke="#1b4252" stroke-width="0.75"/>
<circle cx="165" cy="274.4" r="1.3" fill="#5f9cb8" stroke="#1b4252" stroke-width="0.75"/>
<circle cx="165" cy="280" r="1.3" fill="#5f9cb8" stroke="#1b4252" stroke-width="0.75"/>
<circle cx="165" cy="307.3" r="1.3" fill="#5f9cb8" stroke="#1b4252" stroke-width="0.75"/>
<polygon points="174.8,305.98 173.3,308.68 176.3,308.68" fill="#533522" stroke="#20140a" stroke-width="0.6" stroke-linejoin="round"/>
<polygon points="171.63,306.18 170.13,308.88 173.13,308.88" fill="#533522" stroke="#20140a" stroke-width="0.6" stroke-linejoin="round"/>
<polygon points="177.97,306.28 176.47,308.98 179.47,308.98" fill="#533522" stroke="#20140a" stroke-width="0.6" stroke-linejoin="round"/>
<line x1="184.4" y1="289" x2="184.4" y2="296" stroke="#6e6e6e" stroke-width="0.8"/>
<line x1="181.6" y1="292.5" x2="187.2" y2="292.5" stroke="#6e6e6e" stroke-width="0.8"/>
<circle cx="184.4" cy="284.8" r="1.3" fill="#5f9cb8" stroke="#1b4252" stroke-width="0.75"/>
<circle cx="184.4" cy="291.1" r="1.3" fill="#5f9cb8" stroke="#1b4252" stroke-width="0.75"/>
<circle cx="182.81" cy="292.9" r="1.3" fill="#5f9cb8" stroke="#1b4252" stroke-width="0.75"/>
<circle cx="184.4" cy="294.6" r="1.3" fill="#5f9cb8" stroke="#1b4252" stroke-width="0.75"/>
<circle cx="184.4" cy="305" r="1.3" fill="#5f9cb8" stroke="#1b4252" stroke-width="0.75"/>
<polygon points="193.8,305.98 192.3,308.68 195.3,308.68" fill="#533522" stroke="#20140a" stroke-width="0.6" stroke-linejoin="round"/>
<polygon points="190.63,306.28 189.13,308.98 192.13,308.98" fill="#533522" stroke="#20140a" stroke-width="0.6" stroke-linejoin="round"/>
<text x="156.3" y="321.8" font-size="6.1" text-anchor="middle" fill="#2b2b2b">Untr</text>
<text x="170.2" y="321.8" font-size="6.1" text-anchor="middle" fill="#2b2b2b">4h</text>
<text x="189.3" y="321.8" font-size="6.1" text-anchor="middle" fill="#2b2b2b">72h</text>
<line x1="165.2" y1="312.6" x2="175" y2="312.6" stroke="#7a7a7a" stroke-width="0.9"/>
<line x1="184.2" y1="312.6" x2="194" y2="312.6" stroke="#7a7a7a" stroke-width="0.9"/>
<line x1="166.4" y1="325.4" x2="193.2" y2="325.4" stroke="#7a7a7a" stroke-width="0.9"/>
<text x="180.1" y="334" font-size="6.1" text-anchor="middle" fill="#2b2b2b">post-IR</text>
<line x1="164.4" y1="251.2" x2="175" y2="251.2" stroke="#7a7a7a" stroke-width="0.8"/>
<line x1="164.8" y1="250.9" x2="164.8" y2="252.3" stroke="#7a7a7a" stroke-width="0.8"/>
<line x1="174.6" y1="250.9" x2="174.6" y2="252.3" stroke="#7a7a7a" stroke-width="0.8"/>
<line x1="183.6" y1="278.5" x2="194.2" y2="278.5" stroke="#7a7a7a" stroke-width="0.8"/>
<line x1="184" y1="278.2" x2="184" y2="279.6" stroke="#7a7a7a" stroke-width="0.8"/>
<line x1="193.8" y1="278.2" x2="193.8" y2="279.6" stroke="#7a7a7a" stroke-width="0.8"/>
<text x="188.9" y="278.2" font-size="6" text-anchor="middle" fill="#333">**</text>
<text x="169.7" y="247.6" font-size="6.3" text-anchor="middle" fill="#2b2b2b"><tspan font-style="italic">P</tspan> = .072</text>
<line x1="224.4" y1="249.6" x2="224.4" y2="308.8" stroke="#1a1a1a" stroke-width="1.3"/>
<line x1="221.4" y1="308.8" x2="224.4" y2="308.8" stroke="#1a1a1a" stroke-width="1"/>
<text x="218.4" y="311.7" font-size="6.4" text-anchor="end" fill="#2b2b2b">0</text>
<line x1="221.4" y1="297.4" x2="224.4" y2="297.4" stroke="#1a1a1a" stroke-width="1"/>
<text x="218.4" y="300.3" font-size="6.4" text-anchor="end" fill="#2b2b2b">0.01</text>
<line x1="221.4" y1="286" x2="224.4" y2="286" stroke="#1a1a1a" stroke-width="1"/>
<text x="218.4" y="288.9" font-size="6.4" text-anchor="end" fill="#2b2b2b">0.02</text>
<line x1="221.4" y1="274.6" x2="224.4" y2="274.6" stroke="#1a1a1a" stroke-width="1"/>
<text x="218.4" y="277.5" font-size="6.4" text-anchor="end" fill="#2b2b2b">0.03</text>
<line x1="221.4" y1="263.2" x2="224.4" y2="263.2" stroke="#1a1a1a" stroke-width="1"/>
<text x="218.4" y="266.1" font-size="6.4" text-anchor="end" fill="#2b2b2b">0.04</text>
<line x1="221.4" y1="251.8" x2="224.4" y2="251.8" stroke="#1a1a1a" stroke-width="1"/>
<text x="218.4" y="254.7" font-size="6.4" text-anchor="end" fill="#2b2b2b">0.05</text>
<line x1="223.8" y1="309" x2="272.9" y2="309" stroke="#1a1a1a" stroke-width="1.4"/>
<text x="249" y="235.6" font-size="8.6" text-anchor="middle" fill="#2b2b2b" font-style="italic">Ifit2</text>
<line x1="229.4" y1="295.5" x2="229.4" y2="300" stroke="#6e6e6e" stroke-width="0.8"/>
<line x1="226.6" y1="297.8" x2="232.2" y2="297.8" stroke="#6e6e6e" stroke-width="0.8"/>
<circle cx="229.4" cy="291.9" r="1.3" fill="#aaa4c4" stroke="#2c2846" stroke-width="0.75"/>
<circle cx="229.4" cy="297.2" r="1.3" fill="#aaa4c4" stroke="#2c2846" stroke-width="0.75"/>
<circle cx="226.23" cy="298.2" r="1.3" fill="#aaa4c4" stroke="#2c2846" stroke-width="0.75"/>
<circle cx="229.4" cy="299.2" r="1.3" fill="#aaa4c4" stroke="#2c2846" stroke-width="0.75"/>
<circle cx="232.57" cy="300" r="1.3" fill="#aaa4c4" stroke="#2c2846" stroke-width="0.75"/>
<line x1="239.4" y1="274.6" x2="239.4" y2="287" stroke="#6e6e6e" stroke-width="0.8"/>
<line x1="236.6" y1="280.4" x2="242.2" y2="280.4" stroke="#6e6e6e" stroke-width="0.8"/>
<circle cx="239.4" cy="257.7" r="1.3" fill="#5f9cb8" stroke="#1b4252" stroke-width="0.75"/>
<circle cx="239.4" cy="275.5" r="1.3" fill="#5f9cb8" stroke="#1b4252" stroke-width="0.75"/>
<circle cx="236.23" cy="276.2" r="1.3" fill="#5f9cb8" stroke="#1b4252" stroke-width="0.75"/>
<circle cx="239.4" cy="292.5" r="1.3" fill="#5f9cb8" stroke="#1b4252" stroke-width="0.75"/>
<circle cx="239.4" cy="299" r="1.3" fill="#5f9cb8" stroke="#1b4252" stroke-width="0.75"/>
<line x1="249.2" y1="299" x2="249.2" y2="302" stroke="#6e6e6e" stroke-width="0.8"/>
<line x1="246.4" y1="300.4" x2="252" y2="300.4" stroke="#6e6e6e" stroke-width="0.8"/>
<polygon points="249.2,296.08 247.7,298.78 250.7,298.78" fill="#533522" stroke="#20140a" stroke-width="0.6" stroke-linejoin="round"/>
<polygon points="247.61,297.88 246.11,300.58 249.11,300.58" fill="#533522" stroke="#20140a" stroke-width="0.6" stroke-linejoin="round"/>
<polygon points="249.2,299.38 247.7,302.08 250.7,302.08" fill="#533522" stroke="#20140a" stroke-width="0.6" stroke-linejoin="round"/>
<polygon points="247.61,300.88 246.11,303.58 249.11,303.58" fill="#533522" stroke="#20140a" stroke-width="0.6" stroke-linejoin="round"/>
<polygon points="252.37,298.88 250.87,301.58 253.87,301.58" fill="#533522" stroke="#20140a" stroke-width="0.6" stroke-linejoin="round"/>
<line x1="258.8" y1="270" x2="258.8" y2="282" stroke="#6e6e6e" stroke-width="0.8"/>
<line x1="256" y1="276.2" x2="261.6" y2="276.2" stroke="#6e6e6e" stroke-width="0.8"/>
<circle cx="258.8" cy="259.8" r="1.3" fill="#5f9cb8" stroke="#1b4252" stroke-width="0.75"/>
<circle cx="258.8" cy="271.7" r="1.3" fill="#5f9cb8" stroke="#1b4252" stroke-width="0.75"/>
<circle cx="258.8" cy="273.7" r="1.3" fill="#5f9cb8" stroke="#1b4252" stroke-width="0.75"/>
<circle cx="258.8" cy="277" r="1.3" fill="#5f9cb8" stroke="#1b4252" stroke-width="0.75"/>
<circle cx="258.8" cy="285.8" r="1.3" fill="#5f9cb8" stroke="#1b4252" stroke-width="0.75"/>
<circle cx="257.21" cy="287.7" r="1.3" fill="#5f9cb8" stroke="#1b4252" stroke-width="0.75"/>
<polygon points="268.2,297.98 266.7,300.68 269.7,300.68" fill="#533522" stroke="#20140a" stroke-width="0.6" stroke-linejoin="round"/>
<polygon points="265.03,298.88 263.53,301.58 266.53,301.58" fill="#533522" stroke="#20140a" stroke-width="0.6" stroke-linejoin="round"/>
<polygon points="269.79,299.88 268.29,302.58 271.29,302.58" fill="#533522" stroke="#20140a" stroke-width="0.6" stroke-linejoin="round"/>
<text x="230.7" y="321.8" font-size="6.1" text-anchor="middle" fill="#2b2b2b">Untr</text>
<text x="244.6" y="321.8" font-size="6.1" text-anchor="middle" fill="#2b2b2b">4h</text>
<text x="263.7" y="321.8" font-size="6.1" text-anchor="middle" fill="#2b2b2b">72h</text>
<line x1="239.6" y1="312.6" x2="249.4" y2="312.6" stroke="#7a7a7a" stroke-width="0.9"/>
<line x1="258.6" y1="312.6" x2="268.4" y2="312.6" stroke="#7a7a7a" stroke-width="0.9"/>
<line x1="240.8" y1="325.4" x2="267.6" y2="325.4" stroke="#7a7a7a" stroke-width="0.9"/>
<text x="254.5" y="334" font-size="6.1" text-anchor="middle" fill="#2b2b2b">post-IR</text>
<line x1="238.5" y1="251.5" x2="249.6" y2="251.5" stroke="#7a7a7a" stroke-width="0.8"/>
<line x1="238.9" y1="251.2" x2="238.9" y2="252.6" stroke="#7a7a7a" stroke-width="0.8"/>
<line x1="249.2" y1="251.2" x2="249.2" y2="252.6" stroke="#7a7a7a" stroke-width="0.8"/>
<line x1="257.7" y1="254.4" x2="268.3" y2="254.4" stroke="#7a7a7a" stroke-width="0.8"/>
<line x1="258.1" y1="254.1" x2="258.1" y2="255.5" stroke="#7a7a7a" stroke-width="0.8"/>
<line x1="267.9" y1="254.1" x2="267.9" y2="255.5" stroke="#7a7a7a" stroke-width="0.8"/>
<text x="263" y="254.1" font-size="6" text-anchor="middle" fill="#333">**</text>
<text x="243.7" y="247.6" font-size="6.3" text-anchor="middle" fill="#2b2b2b"><tspan font-style="italic">P</tspan> = .051</text>
<line x1="297.9" y1="249.6" x2="297.9" y2="308.8" stroke="#1a1a1a" stroke-width="1.3"/>
<line x1="294.9" y1="308.8" x2="297.9" y2="308.8" stroke="#1a1a1a" stroke-width="1"/>
<text x="291.9" y="311.7" font-size="6.4" text-anchor="end" fill="#2b2b2b">0</text>
<line x1="294.9" y1="297.4" x2="297.9" y2="297.4" stroke="#1a1a1a" stroke-width="1"/>
<text x="291.9" y="300.3" font-size="6.4" text-anchor="end" fill="#2b2b2b">0.05</text>
<line x1="294.9" y1="286" x2="297.9" y2="286" stroke="#1a1a1a" stroke-width="1"/>
<text x="291.9" y="288.9" font-size="6.4" text-anchor="end" fill="#2b2b2b">0.10</text>
<line x1="294.9" y1="274.6" x2="297.9" y2="274.6" stroke="#1a1a1a" stroke-width="1"/>
<text x="291.9" y="277.5" font-size="6.4" text-anchor="end" fill="#2b2b2b">0.15</text>
<line x1="294.9" y1="263.2" x2="297.9" y2="263.2" stroke="#1a1a1a" stroke-width="1"/>
<text x="291.9" y="266.1" font-size="6.4" text-anchor="end" fill="#2b2b2b">0.20</text>
<line x1="294.9" y1="251.8" x2="297.9" y2="251.8" stroke="#1a1a1a" stroke-width="1"/>
<text x="291.9" y="254.7" font-size="6.4" text-anchor="end" fill="#2b2b2b">0.25</text>
<line x1="297.3" y1="309" x2="346.4" y2="309" stroke="#1a1a1a" stroke-width="1.4"/>
<text x="322.4" y="235.6" font-size="8.6" text-anchor="middle" fill="#2b2b2b" font-style="italic">Ifit3</text>
<circle cx="300.5" cy="305.6" r="1.3" fill="#aaa4c4" stroke="#2c2846" stroke-width="0.75"/>
<circle cx="302.5" cy="305.6" r="1.3" fill="#aaa4c4" stroke="#2c2846" stroke-width="0.75"/>
<circle cx="304.5" cy="305.6" r="1.3" fill="#aaa4c4" stroke="#2c2846" stroke-width="0.75"/>
<circle cx="303.5" cy="304.6" r="1.3" fill="#aaa4c4" stroke="#2c2846" stroke-width="0.75"/>
<line x1="312.9" y1="299" x2="312.9" y2="303.5" stroke="#6e6e6e" stroke-width="0.8"/>
<line x1="310.1" y1="301" x2="315.7" y2="301" stroke="#6e6e6e" stroke-width="0.8"/>
<circle cx="313.2" cy="297.8" r="1.3" fill="#5f9cb8" stroke="#1b4252" stroke-width="0.75"/>
<circle cx="311.9" cy="299.8" r="1.3" fill="#5f9cb8" stroke="#1b4252" stroke-width="0.75"/>
<circle cx="313.7" cy="301.2" r="1.3" fill="#5f9cb8" stroke="#1b4252" stroke-width="0.75"/>
<circle cx="312.5" cy="306.1" r="1.3" fill="#5f9cb8" stroke="#1b4252" stroke-width="0.75"/>
<polygon points="321.2,305.78 319.7,308.48 322.7,308.48" fill="#533522" stroke="#20140a" stroke-width="0.6" stroke-linejoin="round"/>
<polygon points="324.2,305.78 322.7,308.48 325.7,308.48" fill="#533522" stroke="#20140a" stroke-width="0.6" stroke-linejoin="round"/>
<line x1="332.3" y1="267.9" x2="332.3" y2="279" stroke="#6e6e6e" stroke-width="0.8"/>
<line x1="329.5" y1="273.6" x2="335.1" y2="273.6" stroke="#6e6e6e" stroke-width="0.8"/>
<circle cx="332.3" cy="257" r="1.3" fill="#5f9cb8" stroke="#1b4252" stroke-width="0.75"/>
<circle cx="332.3" cy="260.2" r="1.3" fill="#5f9cb8" stroke="#1b4252" stroke-width="0.75"/>
<circle cx="332.3" cy="273" r="1.3" fill="#5f9cb8" stroke="#1b4252" stroke-width="0.75"/>
<circle cx="329.13" cy="273.6" r="1.3" fill="#5f9cb8" stroke="#1b4252" stroke-width="0.75"/>
<circle cx="332.3" cy="286.2" r="1.3" fill="#5f9cb8" stroke="#1b4252" stroke-width="0.75"/>
<circle cx="332.3" cy="292.5" r="1.3" fill="#5f9cb8" stroke="#1b4252" stroke-width="0.75"/>
<polygon points="341.7,306.18 340.2,308.88 343.2,308.88" fill="#533522" stroke="#20140a" stroke-width="0.6" stroke-linejoin="round"/>
<text x="304.2" y="321.8" font-size="6.1" text-anchor="middle" fill="#2b2b2b">Untr</text>
<text x="318.1" y="321.8" font-size="6.1" text-anchor="middle" fill="#2b2b2b">4h</text>
<text x="337.2" y="321.8" font-size="6.1" text-anchor="middle" fill="#2b2b2b">72h</text>
<line x1="313.1" y1="312.6" x2="322.9" y2="312.6" stroke="#7a7a7a" stroke-width="0.9"/>
<line x1="332.1" y1="312.6" x2="341.9" y2="312.6" stroke="#7a7a7a" stroke-width="0.9"/>
<line x1="314.3" y1="325.4" x2="341.1" y2="325.4" stroke="#7a7a7a" stroke-width="0.9"/>
<text x="328" y="334" font-size="6.1" text-anchor="middle" fill="#2b2b2b">post-IR</text>
<line x1="312.3" y1="289" x2="322.5" y2="289" stroke="#7a7a7a" stroke-width="0.8"/>
<line x1="312.7" y1="288.7" x2="312.7" y2="290.1" stroke="#7a7a7a" stroke-width="0.8"/>
<line x1="322.1" y1="288.7" x2="322.1" y2="290.1" stroke="#7a7a7a" stroke-width="0.8"/>
<text x="317.4" y="288.7" font-size="6" text-anchor="middle" fill="#333">*</text>
<line x1="330.6" y1="251.2" x2="341.2" y2="251.2" stroke="#7a7a7a" stroke-width="0.8"/>
<line x1="331" y1="250.9" x2="331" y2="252.3" stroke="#7a7a7a" stroke-width="0.8"/>
<line x1="340.8" y1="250.9" x2="340.8" y2="252.3" stroke="#7a7a7a" stroke-width="0.8"/>
<text x="335.9" y="250.9" font-size="6" text-anchor="middle" fill="#333">**</text>
<line x1="371.4" y1="249.6" x2="371.4" y2="308.8" stroke="#1a1a1a" stroke-width="1.3"/>
<line x1="368.4" y1="308.8" x2="371.4" y2="308.8" stroke="#1a1a1a" stroke-width="1"/>
<text x="365.4" y="311.7" font-size="6.4" text-anchor="end" fill="#2b2b2b">0</text>
<line x1="368.4" y1="294.55" x2="371.4" y2="294.55" stroke="#1a1a1a" stroke-width="1"/>
<text x="365.4" y="297.45" font-size="6.4" text-anchor="end" fill="#2b2b2b">0.02</text>
<line x1="368.4" y1="280.3" x2="371.4" y2="280.3" stroke="#1a1a1a" stroke-width="1"/>
<text x="365.4" y="283.2" font-size="6.4" text-anchor="end" fill="#2b2b2b">0.04</text>
<line x1="368.4" y1="266.05" x2="371.4" y2="266.05" stroke="#1a1a1a" stroke-width="1"/>
<text x="365.4" y="268.95" font-size="6.4" text-anchor="end" fill="#2b2b2b">0.06</text>
<line x1="368.4" y1="251.8" x2="371.4" y2="251.8" stroke="#1a1a1a" stroke-width="1"/>
<text x="365.4" y="254.7" font-size="6.4" text-anchor="end" fill="#2b2b2b">0.08</text>
<line x1="370.8" y1="309" x2="419.9" y2="309" stroke="#1a1a1a" stroke-width="1.4"/>
<text x="396.6" y="235.6" font-size="8.6" text-anchor="middle" fill="#2b2b2b" font-style="italic">Cxcl9</text>
<circle cx="374.8" cy="306.6" r="1.3" fill="#aaa4c4" stroke="#2c2846" stroke-width="0.75"/>
<circle cx="378" cy="306.6" r="1.3" fill="#aaa4c4" stroke="#2c2846" stroke-width="0.75"/>
<circle cx="386.4" cy="297.8" r="1.3" fill="#5f9cb8" stroke="#1b4252" stroke-width="0.75"/>
<circle cx="386.8" cy="301.6" r="1.3" fill="#5f9cb8" stroke="#1b4252" stroke-width="0.75"/>
<circle cx="385.4" cy="303.6" r="1.3" fill="#5f9cb8" stroke="#1b4252" stroke-width="0.75"/>
<circle cx="387.4" cy="305.2" r="1.3" fill="#5f9cb8" stroke="#1b4252" stroke-width="0.75"/>
<polygon points="395.4,306.18 393.9,308.88 396.9,308.88" fill="#533522" stroke="#20140a" stroke-width="0.6" stroke-linejoin="round"/>
<polygon points="397,306.18 395.5,308.88 398.5,308.88" fill="#533522" stroke="#20140a" stroke-width="0.6" stroke-linejoin="round"/>
<line x1="405.8" y1="280.4" x2="405.8" y2="292.9" stroke="#6e6e6e" stroke-width="0.8"/>
<line x1="403" y1="286.5" x2="408.6" y2="286.5" stroke="#6e6e6e" stroke-width="0.8"/>
<circle cx="405.8" cy="267.3" r="1.3" fill="#5f9cb8" stroke="#1b4252" stroke-width="0.75"/>
<circle cx="405.8" cy="271.9" r="1.3" fill="#5f9cb8" stroke="#1b4252" stroke-width="0.75"/>
<circle cx="405.8" cy="282" r="1.3" fill="#5f9cb8" stroke="#1b4252" stroke-width="0.75"/>
<circle cx="405.8" cy="283.4" r="1.3" fill="#5f9cb8" stroke="#1b4252" stroke-width="0.75"/>
<circle cx="405.8" cy="293.5" r="1.3" fill="#5f9cb8" stroke="#1b4252" stroke-width="0.75"/>
<circle cx="405.8" cy="299.8" r="1.3" fill="#5f9cb8" stroke="#1b4252" stroke-width="0.75"/>
<circle cx="405.8" cy="304.3" r="1.3" fill="#5f9cb8" stroke="#1b4252" stroke-width="0.75"/>
<polygon points="415.6,298.98 414.1,301.68 417.1,301.68" fill="#533522" stroke="#20140a" stroke-width="0.6" stroke-linejoin="round"/>
<polygon points="414.2,303.58 412.7,306.28 415.7,306.28" fill="#533522" stroke="#20140a" stroke-width="0.6" stroke-linejoin="round"/>
<polygon points="416.4,304.18 414.9,306.88 417.9,306.88" fill="#533522" stroke="#20140a" stroke-width="0.6" stroke-linejoin="round"/>
<text x="377.7" y="321.8" font-size="6.1" text-anchor="middle" fill="#2b2b2b">Untr</text>
<text x="391.6" y="321.8" font-size="6.1" text-anchor="middle" fill="#2b2b2b">4h</text>
<text x="410.7" y="321.8" font-size="6.1" text-anchor="middle" fill="#2b2b2b">72h</text>
<line x1="386.6" y1="312.6" x2="396.4" y2="312.6" stroke="#7a7a7a" stroke-width="0.9"/>
<line x1="405.6" y1="312.6" x2="415.4" y2="312.6" stroke="#7a7a7a" stroke-width="0.9"/>
<line x1="387.8" y1="325.4" x2="414.6" y2="325.4" stroke="#7a7a7a" stroke-width="0.9"/>
<text x="401.5" y="334" font-size="6.1" text-anchor="middle" fill="#2b2b2b">post-IR</text>
<line x1="385.6" y1="291.5" x2="395.8" y2="291.5" stroke="#7a7a7a" stroke-width="0.8"/>
<line x1="386" y1="291.2" x2="386" y2="292.6" stroke="#7a7a7a" stroke-width="0.8"/>
<line x1="395.4" y1="291.2" x2="395.4" y2="292.6" stroke="#7a7a7a" stroke-width="0.8"/>
<line x1="405.4" y1="259.2" x2="415.4" y2="259.2" stroke="#7a7a7a" stroke-width="0.8"/>
<line x1="405.8" y1="258.9" x2="405.8" y2="260.3" stroke="#7a7a7a" stroke-width="0.8"/>
<line x1="415" y1="258.9" x2="415" y2="260.3" stroke="#7a7a7a" stroke-width="0.8"/>
<text x="410.4" y="258.9" font-size="6" text-anchor="middle" fill="#333">*</text>
<text x="388" y="288" font-size="6.3" text-anchor="middle" fill="#2b2b2b"><tspan font-style="italic">P</tspan> = .087</text>
<line x1="76" y1="354.4" x2="418.5" y2="354.4" stroke="#4a4a4a" stroke-width="1.3"/>
<text x="226.3" y="349.6" font-size="8" text-anchor="start" fill="#2b2b2b" textLength="28.5" lengthAdjust="spacingAndGlyphs">Lineage</text>
<text x="257.3" y="346.6" font-size="5" text-anchor="start" fill="#2b2b2b" textLength="10.4" lengthAdjust="spacingAndGlyphs">neg</text>
<text x="0" y="0" font-size="6.6" font-weight="bold" fill="#3a3a3a" text-anchor="middle" textLength="29.5" lengthAdjust="spacingAndGlyphs" transform="translate(52.28 405.2) rotate(-90)">mRNA/L32</text>
<line x1="76.4" y1="376.3" x2="76.4" y2="434.8" stroke="#1a1a1a" stroke-width="1.3"/>
<line x1="73.4" y1="434.8" x2="76.4" y2="434.8" stroke="#1a1a1a" stroke-width="1"/>
<text x="70.4" y="437.7" font-size="6.4" text-anchor="end" fill="#2b2b2b">0</text>
<line x1="73.4" y1="416.03" x2="76.4" y2="416.03" stroke="#1a1a1a" stroke-width="1"/>
<text x="70.4" y="418.94" font-size="6.4" text-anchor="end" fill="#2b2b2b">0.05</text>
<line x1="73.4" y1="397.27" x2="76.4" y2="397.27" stroke="#1a1a1a" stroke-width="1"/>
<text x="70.4" y="400.17" font-size="6.4" text-anchor="end" fill="#2b2b2b">0.10</text>
<line x1="73.4" y1="378.5" x2="76.4" y2="378.5" stroke="#1a1a1a" stroke-width="1"/>
<text x="70.4" y="381.4" font-size="6.4" text-anchor="end" fill="#2b2b2b">0.15</text>
<line x1="75.8" y1="435" x2="124.9" y2="435" stroke="#1a1a1a" stroke-width="1.4"/>
<text x="101.5" y="367.7" font-size="8.6" text-anchor="middle" fill="#2b2b2b" font-style="italic">Irf7</text>
<line x1="81.4" y1="423.5" x2="81.4" y2="427.5" stroke="#6e6e6e" stroke-width="0.8"/>
<line x1="78.6" y1="425.5" x2="84.2" y2="425.5" stroke="#6e6e6e" stroke-width="0.8"/>
<circle cx="81.4" cy="422.3" r="1.3" fill="#aaa4c4" stroke="#2c2846" stroke-width="0.75"/>
<circle cx="81.4" cy="424.5" r="1.3" fill="#aaa4c4" stroke="#2c2846" stroke-width="0.75"/>
<circle cx="79.81" cy="426" r="1.3" fill="#aaa4c4" stroke="#2c2846" stroke-width="0.75"/>
<circle cx="82.99" cy="427" r="1.3" fill="#aaa4c4" stroke="#2c2846" stroke-width="0.75"/>
<circle cx="79.81" cy="428" r="1.3" fill="#aaa4c4" stroke="#2c2846" stroke-width="0.75"/>
<line x1="91.4" y1="396.3" x2="91.4" y2="414" stroke="#6e6e6e" stroke-width="0.8"/>
<line x1="88.6" y1="405" x2="94.2" y2="405" stroke="#6e6e6e" stroke-width="0.8"/>
<circle cx="91.4" cy="387" r="1.3" fill="#5f9cb8" stroke="#1b4252" stroke-width="0.75"/>
<circle cx="91.4" cy="401.2" r="1.3" fill="#5f9cb8" stroke="#1b4252" stroke-width="0.75"/>
<circle cx="91.4" cy="404" r="1.3" fill="#5f9cb8" stroke="#1b4252" stroke-width="0.75"/>
<circle cx="91.4" cy="429" r="1.3" fill="#5f9cb8" stroke="#1b4252" stroke-width="0.75"/>
<line x1="101.2" y1="424" x2="101.2" y2="430" stroke="#6e6e6e" stroke-width="0.8"/>
<line x1="98.4" y1="427" x2="104" y2="427" stroke="#6e6e6e" stroke-width="0.8"/>
<polygon points="101.2,421.68 99.7,424.38 102.7,424.38" fill="#533522" stroke="#20140a" stroke-width="0.6" stroke-linejoin="round"/>
<polygon points="99.61,423.58 98.11,426.28 101.11,426.28" fill="#533522" stroke="#20140a" stroke-width="0.6" stroke-linejoin="round"/>
<polygon points="101.2,425.38 99.7,428.08 102.7,428.08" fill="#533522" stroke="#20140a" stroke-width="0.6" stroke-linejoin="round"/>
<polygon points="101.2,430.38 99.7,433.08 102.7,433.08" fill="#533522" stroke="#20140a" stroke-width="0.6" stroke-linejoin="round"/>
<line x1="110.8" y1="415.5" x2="110.8" y2="419.5" stroke="#6e6e6e" stroke-width="0.8"/>
<line x1="108" y1="417.5" x2="113.6" y2="417.5" stroke="#6e6e6e" stroke-width="0.8"/>
<circle cx="110.8" cy="414" r="1.3" fill="#5f9cb8" stroke="#1b4252" stroke-width="0.75"/>
<circle cx="110.8" cy="416.5" r="1.3" fill="#5f9cb8" stroke="#1b4252" stroke-width="0.75"/>
<circle cx="110.8" cy="419.4" r="1.3" fill="#5f9cb8" stroke="#1b4252" stroke-width="0.75"/>
<circle cx="107.63" cy="420.4" r="1.3" fill="#5f9cb8" stroke="#1b4252" stroke-width="0.75"/>
<polygon points="120.2,431.98 118.7,434.68 121.7,434.68" fill="#533522" stroke="#20140a" stroke-width="0.6" stroke-linejoin="round"/>
<polygon points="117.03,432.38 115.53,435.08 118.53,435.08" fill="#533522" stroke="#20140a" stroke-width="0.6" stroke-linejoin="round"/>
<text x="82.7" y="447.8" font-size="6.1" text-anchor="middle" fill="#2b2b2b">Untr</text>
<text x="96.6" y="447.8" font-size="6.1" text-anchor="middle" fill="#2b2b2b">4h</text>
<text x="115.7" y="447.8" font-size="6.1" text-anchor="middle" fill="#2b2b2b">72h</text>
<line x1="91.6" y1="438.6" x2="101.4" y2="438.6" stroke="#7a7a7a" stroke-width="0.9"/>
<line x1="110.6" y1="438.6" x2="120.4" y2="438.6" stroke="#7a7a7a" stroke-width="0.9"/>
<line x1="92.8" y1="452.3" x2="119.6" y2="452.3" stroke="#7a7a7a" stroke-width="0.9"/>
<text x="106.5" y="460.8" font-size="6.1" text-anchor="middle" fill="#2b2b2b">post-IR</text>
<line x1="91.6" y1="382" x2="102.4" y2="382" stroke="#7a7a7a" stroke-width="0.8"/>
<line x1="92" y1="381.7" x2="92" y2="383.1" stroke="#7a7a7a" stroke-width="0.8"/>
<line x1="102" y1="381.7" x2="102" y2="383.1" stroke="#7a7a7a" stroke-width="0.8"/>
<line x1="111.2" y1="408.5" x2="122" y2="408.5" stroke="#7a7a7a" stroke-width="0.8"/>
<line x1="111.6" y1="408.2" x2="111.6" y2="409.6" stroke="#7a7a7a" stroke-width="0.8"/>
<line x1="121.6" y1="408.2" x2="121.6" y2="409.6" stroke="#7a7a7a" stroke-width="0.8"/>
<text x="116.6" y="408.2" font-size="6" text-anchor="middle" fill="#333">**</text>
<text x="96.6" y="378" font-size="6.3" text-anchor="middle" fill="#2b2b2b"><tspan font-style="italic">P</tspan> = .089</text>
<line x1="150" y1="376.3" x2="150" y2="434.8" stroke="#1a1a1a" stroke-width="1.3"/>
<line x1="147" y1="434.8" x2="150" y2="434.8" stroke="#1a1a1a" stroke-width="1"/>
<text x="144" y="437.7" font-size="6.4" text-anchor="end" fill="#2b2b2b">0</text>
<line x1="147" y1="423.54" x2="150" y2="423.54" stroke="#1a1a1a" stroke-width="1"/>
<text x="144" y="426.44" font-size="6.4" text-anchor="end" fill="#2b2b2b">0.01</text>
<line x1="147" y1="412.28" x2="150" y2="412.28" stroke="#1a1a1a" stroke-width="1"/>
<text x="144" y="415.18" font-size="6.4" text-anchor="end" fill="#2b2b2b">0.02</text>
<line x1="147" y1="401.02" x2="150" y2="401.02" stroke="#1a1a1a" stroke-width="1"/>
<text x="144" y="403.92" font-size="6.4" text-anchor="end" fill="#2b2b2b">0.03</text>
<line x1="147" y1="389.76" x2="150" y2="389.76" stroke="#1a1a1a" stroke-width="1"/>
<text x="144" y="392.66" font-size="6.4" text-anchor="end" fill="#2b2b2b">0.04</text>
<line x1="147" y1="378.5" x2="150" y2="378.5" stroke="#1a1a1a" stroke-width="1"/>
<text x="144" y="381.4" font-size="6.4" text-anchor="end" fill="#2b2b2b">0.05</text>
<line x1="149.4" y1="435" x2="198.5" y2="435" stroke="#1a1a1a" stroke-width="1.4"/>
<text x="174.8" y="367.7" font-size="8.6" text-anchor="middle" fill="#2b2b2b" font-style="italic">Ifit1</text>
<circle cx="155" cy="428.5" r="1.3" fill="#aaa4c4" stroke="#2c2846" stroke-width="0.75"/>
<circle cx="151.83" cy="429.4" r="1.3" fill="#aaa4c4" stroke="#2c2846" stroke-width="0.75"/>
<circle cx="156.59" cy="430" r="1.3" fill="#aaa4c4" stroke="#2c2846" stroke-width="0.75"/>
<line x1="165" y1="416.5" x2="165" y2="426.5" stroke="#6e6e6e" stroke-width="0.8"/>
<line x1="162.2" y1="421.7" x2="167.8" y2="421.7" stroke="#6e6e6e" stroke-width="0.8"/>
<circle cx="165" cy="403.5" r="1.3" fill="#5f9cb8" stroke="#1b4252" stroke-width="0.75"/>
<circle cx="165" cy="420.8" r="1.3" fill="#5f9cb8" stroke="#1b4252" stroke-width="0.75"/>
<circle cx="163.41" cy="422.7" r="1.3" fill="#5f9cb8" stroke="#1b4252" stroke-width="0.75"/>
<circle cx="165" cy="430.8" r="1.3" fill="#5f9cb8" stroke="#1b4252" stroke-width="0.75"/>
<line x1="174.8" y1="402.5" x2="174.8" y2="420.8" stroke="#6e6e6e" stroke-width="0.8"/>
<line x1="172" y1="412" x2="177.6" y2="412" stroke="#6e6e6e" stroke-width="0.8"/>
<polygon points="174.8,382.58 173.3,385.28 176.3,385.28" fill="#533522" stroke="#20140a" stroke-width="0.6" stroke-linejoin="round"/>
<polygon points="174.8,388.38 173.3,391.08 176.3,391.08" fill="#533522" stroke="#20140a" stroke-width="0.6" stroke-linejoin="round"/>
<polygon points="174.8,404.68 173.3,407.38 176.3,407.38" fill="#533522" stroke="#20140a" stroke-width="0.6" stroke-linejoin="round"/>
<polygon points="174.8,427.18 173.3,429.88 176.3,429.88" fill="#533522" stroke="#20140a" stroke-width="0.6" stroke-linejoin="round"/>
<polygon points="174.8,430.38 173.3,433.08 176.3,433.08" fill="#533522" stroke="#20140a" stroke-width="0.6" stroke-linejoin="round"/>
<circle cx="184.4" cy="416" r="1.3" fill="#5f9cb8" stroke="#1b4252" stroke-width="0.75"/>
<circle cx="182.81" cy="417.3" r="1.3" fill="#5f9cb8" stroke="#1b4252" stroke-width="0.75"/>
<circle cx="184.4" cy="418.8" r="1.3" fill="#5f9cb8" stroke="#1b4252" stroke-width="0.75"/>
<polygon points="193.8,432.18 192.3,434.88 195.3,434.88" fill="#533522" stroke="#20140a" stroke-width="0.6" stroke-linejoin="round"/>
<polygon points="190.63,432.38 189.13,435.08 192.13,435.08" fill="#533522" stroke="#20140a" stroke-width="0.6" stroke-linejoin="round"/>
<text x="156.3" y="447.8" font-size="6.1" text-anchor="middle" fill="#2b2b2b">Untr</text>
<text x="170.2" y="447.8" font-size="6.1" text-anchor="middle" fill="#2b2b2b">4h</text>
<text x="189.3" y="447.8" font-size="6.1" text-anchor="middle" fill="#2b2b2b">72h</text>
<line x1="165.2" y1="438.6" x2="175" y2="438.6" stroke="#7a7a7a" stroke-width="0.9"/>
<line x1="184.2" y1="438.6" x2="194" y2="438.6" stroke="#7a7a7a" stroke-width="0.9"/>
<line x1="166.4" y1="452.3" x2="193.2" y2="452.3" stroke="#7a7a7a" stroke-width="0.9"/>
<text x="180.1" y="460.8" font-size="6.1" text-anchor="middle" fill="#2b2b2b">post-IR</text>
<line x1="184" y1="407.7" x2="194.6" y2="407.7" stroke="#7a7a7a" stroke-width="0.8"/>
<line x1="184.4" y1="407.4" x2="184.4" y2="408.8" stroke="#7a7a7a" stroke-width="0.8"/>
<line x1="194.2" y1="407.4" x2="194.2" y2="408.8" stroke="#7a7a7a" stroke-width="0.8"/>
<text x="189.3" y="407.4" font-size="6" text-anchor="middle" fill="#333">**</text>
<line x1="224.4" y1="376.3" x2="224.4" y2="434.8" stroke="#1a1a1a" stroke-width="1.3"/>
<line x1="221.4" y1="434.8" x2="224.4" y2="434.8" stroke="#1a1a1a" stroke-width="1"/>
<text x="218.4" y="437.7" font-size="6.4" text-anchor="end" fill="#2b2b2b">0</text>
<line x1="221.4" y1="416.03" x2="224.4" y2="416.03" stroke="#1a1a1a" stroke-width="1"/>
<text x="218.4" y="418.94" font-size="6.4" text-anchor="end" fill="#2b2b2b">0.01</text>
<line x1="221.4" y1="397.27" x2="224.4" y2="397.27" stroke="#1a1a1a" stroke-width="1"/>
<text x="218.4" y="400.17" font-size="6.4" text-anchor="end" fill="#2b2b2b">0.02</text>
<line x1="221.4" y1="378.5" x2="224.4" y2="378.5" stroke="#1a1a1a" stroke-width="1"/>
<text x="218.4" y="381.4" font-size="6.4" text-anchor="end" fill="#2b2b2b">0.03</text>
<line x1="223.8" y1="435" x2="272.9" y2="435" stroke="#1a1a1a" stroke-width="1.4"/>
<text x="249" y="367.7" font-size="8.6" text-anchor="middle" fill="#2b2b2b" font-style="italic">Ifit2</text>
<circle cx="229.4" cy="420.4" r="1.3" fill="#aaa4c4" stroke="#2c2846" stroke-width="0.75"/>
<circle cx="227.81" cy="422.3" r="1.3" fill="#aaa4c4" stroke="#2c2846" stroke-width="0.75"/>
<circle cx="229.4" cy="423.5" r="1.3" fill="#aaa4c4" stroke="#2c2846" stroke-width="0.75"/>
<circle cx="226.23" cy="424.6" r="1.3" fill="#aaa4c4" stroke="#2c2846" stroke-width="0.75"/>
<line x1="239.4" y1="404.4" x2="239.4" y2="412.7" stroke="#6e6e6e" stroke-width="0.8"/>
<line x1="236.6" y1="408.3" x2="242.2" y2="408.3" stroke="#6e6e6e" stroke-width="0.8"/>
<circle cx="239.4" cy="393.5" r="1.3" fill="#5f9cb8" stroke="#1b4252" stroke-width="0.75"/>
<circle cx="239.4" cy="407.3" r="1.3" fill="#5f9cb8" stroke="#1b4252" stroke-width="0.75"/>
<circle cx="237.81" cy="408.7" r="1.3" fill="#5f9cb8" stroke="#1b4252" stroke-width="0.75"/>
<circle cx="239.4" cy="417.5" r="1.3" fill="#5f9cb8" stroke="#1b4252" stroke-width="0.75"/>
<circle cx="236.23" cy="417.5" r="1.3" fill="#5f9cb8" stroke="#1b4252" stroke-width="0.75"/>
<line x1="249.2" y1="412" x2="249.2" y2="422.3" stroke="#6e6e6e" stroke-width="0.8"/>
<line x1="246.4" y1="417" x2="252" y2="417" stroke="#6e6e6e" stroke-width="0.8"/>
<polygon points="249.2,386.88 247.7,389.58 250.7,389.58" fill="#533522" stroke="#20140a" stroke-width="0.6" stroke-linejoin="round"/>
<polygon points="249.2,414.38 247.7,417.08 250.7,417.08" fill="#533522" stroke="#20140a" stroke-width="0.6" stroke-linejoin="round"/>
<polygon points="247.61,416.28 246.11,418.98 249.11,418.98" fill="#533522" stroke="#20140a" stroke-width="0.6" stroke-linejoin="round"/>
<polygon points="249.2,421.08 247.7,423.78 250.7,423.78" fill="#533522" stroke="#20140a" stroke-width="0.6" stroke-linejoin="round"/>
<polygon points="247.61,422.98 246.11,425.68 249.11,425.68" fill="#533522" stroke="#20140a" stroke-width="0.6" stroke-linejoin="round"/>
<line x1="258.8" y1="405" x2="258.8" y2="411.5" stroke="#6e6e6e" stroke-width="0.8"/>
<line x1="256" y1="408.3" x2="261.6" y2="408.3" stroke="#6e6e6e" stroke-width="0.8"/>
<circle cx="258.8" cy="404.4" r="1.3" fill="#5f9cb8" stroke="#1b4252" stroke-width="0.75"/>
<circle cx="255.63" cy="405.4" r="1.3" fill="#5f9cb8" stroke="#1b4252" stroke-width="0.75"/>
<circle cx="258.8" cy="408.3" r="1.3" fill="#5f9cb8" stroke="#1b4252" stroke-width="0.75"/>
<circle cx="258.8" cy="412.7" r="1.3" fill="#5f9cb8" stroke="#1b4252" stroke-width="0.75"/>
<circle cx="258.8" cy="417.9" r="1.3" fill="#5f9cb8" stroke="#1b4252" stroke-width="0.75"/>
<polygon points="268.2,424.88 266.7,427.58 269.7,427.58" fill="#533522" stroke="#20140a" stroke-width="0.6" stroke-linejoin="round"/>
<polygon points="265.03,425.38 263.53,428.08 266.53,428.08" fill="#533522" stroke="#20140a" stroke-width="0.6" stroke-linejoin="round"/>
<text x="230.7" y="447.8" font-size="6.1" text-anchor="middle" fill="#2b2b2b">Untr</text>
<text x="244.6" y="447.8" font-size="6.1" text-anchor="middle" fill="#2b2b2b">4h</text>
<text x="263.7" y="447.8" font-size="6.1" text-anchor="middle" fill="#2b2b2b">72h</text>
<line x1="239.6" y1="438.6" x2="249.4" y2="438.6" stroke="#7a7a7a" stroke-width="0.9"/>
<line x1="258.6" y1="438.6" x2="268.4" y2="438.6" stroke="#7a7a7a" stroke-width="0.9"/>
<line x1="240.8" y1="452.3" x2="267.6" y2="452.3" stroke="#7a7a7a" stroke-width="0.9"/>
<text x="254.5" y="460.8" font-size="6.1" text-anchor="middle" fill="#2b2b2b">post-IR</text>
<line x1="257.7" y1="397.3" x2="268.7" y2="397.3" stroke="#7a7a7a" stroke-width="0.8"/>
<line x1="258.1" y1="397" x2="258.1" y2="398.4" stroke="#7a7a7a" stroke-width="0.8"/>
<line x1="268.3" y1="397" x2="268.3" y2="398.4" stroke="#7a7a7a" stroke-width="0.8"/>
<text x="263.2" y="397" font-size="6" text-anchor="middle" fill="#333">**</text>
<line x1="297.9" y1="376.3" x2="297.9" y2="434.8" stroke="#1a1a1a" stroke-width="1.3"/>
<line x1="294.9" y1="434.8" x2="297.9" y2="434.8" stroke="#1a1a1a" stroke-width="1"/>
<text x="291.9" y="437.7" font-size="6.4" text-anchor="end" fill="#2b2b2b">0</text>
<line x1="294.9" y1="420.73" x2="297.9" y2="420.73" stroke="#1a1a1a" stroke-width="1"/>
<text x="291.9" y="423.63" font-size="6.4" text-anchor="end" fill="#2b2b2b">0.02</text>
<line x1="294.9" y1="406.65" x2="297.9" y2="406.65" stroke="#1a1a1a" stroke-width="1"/>
<text x="291.9" y="409.55" font-size="6.4" text-anchor="end" fill="#2b2b2b">0.04</text>
<line x1="294.9" y1="392.57" x2="297.9" y2="392.57" stroke="#1a1a1a" stroke-width="1"/>
<text x="291.9" y="395.48" font-size="6.4" text-anchor="end" fill="#2b2b2b">0.06</text>
<line x1="294.9" y1="378.5" x2="297.9" y2="378.5" stroke="#1a1a1a" stroke-width="1"/>
<text x="291.9" y="381.4" font-size="6.4" text-anchor="end" fill="#2b2b2b">0.08</text>
<line x1="297.3" y1="435" x2="346.4" y2="435" stroke="#1a1a1a" stroke-width="1.4"/>
<text x="322.4" y="367.7" font-size="8.6" text-anchor="middle" fill="#2b2b2b" font-style="italic">Ifit3</text>
<circle cx="302.9" cy="429.4" r="1.3" fill="#aaa4c4" stroke="#2c2846" stroke-width="0.75"/>
<circle cx="299.73" cy="430.4" r="1.3" fill="#aaa4c4" stroke="#2c2846" stroke-width="0.75"/>
<circle cx="302.9" cy="432" r="1.3" fill="#aaa4c4" stroke="#2c2846" stroke-width="0.75"/>
<line x1="312.9" y1="423" x2="312.9" y2="427" stroke="#6e6e6e" stroke-width="0.8"/>
<line x1="310.1" y1="425" x2="315.7" y2="425" stroke="#6e6e6e" stroke-width="0.8"/>
<circle cx="312.9" cy="418.8" r="1.3" fill="#5f9cb8" stroke="#1b4252" stroke-width="0.75"/>
<circle cx="312.9" cy="424.6" r="1.3" fill="#5f9cb8" stroke="#1b4252" stroke-width="0.75"/>
<circle cx="311.31" cy="426.2" r="1.3" fill="#5f9cb8" stroke="#1b4252" stroke-width="0.75"/>
<circle cx="312.9" cy="428" r="1.3" fill="#5f9cb8" stroke="#1b4252" stroke-width="0.75"/>
<line x1="322.7" y1="425" x2="322.7" y2="431" stroke="#6e6e6e" stroke-width="0.8"/>
<line x1="319.9" y1="428" x2="325.5" y2="428" stroke="#6e6e6e" stroke-width="0.8"/>
<polygon points="322.7,416.88 321.2,419.58 324.2,419.58" fill="#533522" stroke="#20140a" stroke-width="0.6" stroke-linejoin="round"/>
<polygon points="322.7,425.88 321.2,428.58 324.2,428.58" fill="#533522" stroke="#20140a" stroke-width="0.6" stroke-linejoin="round"/>
<polygon points="321.11,427.18 319.61,429.88 322.61,429.88" fill="#533522" stroke="#20140a" stroke-width="0.6" stroke-linejoin="round"/>
<polygon points="322.7,432.58 321.2,435.28 324.2,435.28" fill="#533522" stroke="#20140a" stroke-width="0.6" stroke-linejoin="round"/>
<line x1="332.3" y1="407.7" x2="332.3" y2="415.4" stroke="#6e6e6e" stroke-width="0.8"/>
<line x1="329.5" y1="411.5" x2="335.1" y2="411.5" stroke="#6e6e6e" stroke-width="0.8"/>
<circle cx="332.3" cy="392" r="1.3" fill="#5f9cb8" stroke="#1b4252" stroke-width="0.75"/>
<circle cx="332.3" cy="403.8" r="1.3" fill="#5f9cb8" stroke="#1b4252" stroke-width="0.75"/>
<circle cx="332.3" cy="416" r="1.3" fill="#5f9cb8" stroke="#1b4252" stroke-width="0.75"/>
<circle cx="329.13" cy="417" r="1.3" fill="#5f9cb8" stroke="#1b4252" stroke-width="0.75"/>
<circle cx="332.3" cy="424" r="1.3" fill="#5f9cb8" stroke="#1b4252" stroke-width="0.75"/>
<polygon points="341.7,432.38 340.2,435.08 343.2,435.08" fill="#533522" stroke="#20140a" stroke-width="0.6" stroke-linejoin="round"/>
<text x="304.2" y="447.8" font-size="6.1" text-anchor="middle" fill="#2b2b2b">Untr</text>
<text x="318.1" y="447.8" font-size="6.1" text-anchor="middle" fill="#2b2b2b">4h</text>
<text x="337.2" y="447.8" font-size="6.1" text-anchor="middle" fill="#2b2b2b">72h</text>
<line x1="313.1" y1="438.6" x2="322.9" y2="438.6" stroke="#7a7a7a" stroke-width="0.9"/>
<line x1="332.1" y1="438.6" x2="341.9" y2="438.6" stroke="#7a7a7a" stroke-width="0.9"/>
<line x1="314.3" y1="452.3" x2="341.1" y2="452.3" stroke="#7a7a7a" stroke-width="0.9"/>
<text x="328" y="460.8" font-size="6.1" text-anchor="middle" fill="#2b2b2b">post-IR</text>
<line x1="331.2" y1="385.6" x2="341.5" y2="385.6" stroke="#7a7a7a" stroke-width="0.8"/>
<line x1="331.6" y1="385.3" x2="331.6" y2="386.7" stroke="#7a7a7a" stroke-width="0.8"/>
<line x1="341.1" y1="385.3" x2="341.1" y2="386.7" stroke="#7a7a7a" stroke-width="0.8"/>
<text x="336.35" y="385.3" font-size="6" text-anchor="middle" fill="#333">**</text>
<line x1="371.4" y1="376.3" x2="371.4" y2="434.8" stroke="#1a1a1a" stroke-width="1.3"/>
<line x1="368.4" y1="434.8" x2="371.4" y2="434.8" stroke="#1a1a1a" stroke-width="1"/>
<text x="365.4" y="437.7" font-size="6.4" text-anchor="end" fill="#2b2b2b">0</text>
<line x1="368.4" y1="423.54" x2="371.4" y2="423.54" stroke="#1a1a1a" stroke-width="1"/>
<text x="365.4" y="426.44" font-size="6.4" text-anchor="end" fill="#2b2b2b">0.02</text>
<line x1="368.4" y1="412.28" x2="371.4" y2="412.28" stroke="#1a1a1a" stroke-width="1"/>
<text x="365.4" y="415.18" font-size="6.4" text-anchor="end" fill="#2b2b2b">0.04</text>
<line x1="368.4" y1="401.02" x2="371.4" y2="401.02" stroke="#1a1a1a" stroke-width="1"/>
<text x="365.4" y="403.92" font-size="6.4" text-anchor="end" fill="#2b2b2b">0.06</text>
<line x1="368.4" y1="389.76" x2="371.4" y2="389.76" stroke="#1a1a1a" stroke-width="1"/>
<text x="365.4" y="392.66" font-size="6.4" text-anchor="end" fill="#2b2b2b">0.08</text>
<line x1="368.4" y1="378.5" x2="371.4" y2="378.5" stroke="#1a1a1a" stroke-width="1"/>
<text x="365.4" y="381.4" font-size="6.4" text-anchor="end" fill="#2b2b2b">0.10</text>
<line x1="370.8" y1="435" x2="419.9" y2="435" stroke="#1a1a1a" stroke-width="1.4"/>
<text x="396.5" y="367.7" font-size="8.6" text-anchor="middle" fill="#2b2b2b" font-style="italic">Sca1</text>
<circle cx="376.4" cy="424" r="1.3" fill="#aaa4c4" stroke="#2c2846" stroke-width="0.75"/>
<circle cx="376.4" cy="426.2" r="1.3" fill="#aaa4c4" stroke="#2c2846" stroke-width="0.75"/>
<circle cx="374.81" cy="428" r="1.3" fill="#aaa4c4" stroke="#2c2846" stroke-width="0.75"/>
<circle cx="376.4" cy="430.2" r="1.3" fill="#aaa4c4" stroke="#2c2846" stroke-width="0.75"/>
<circle cx="386.4" cy="418.9" r="1.3" fill="#5f9cb8" stroke="#1b4252" stroke-width="0.75"/>
<circle cx="384.81" cy="420.8" r="1.3" fill="#5f9cb8" stroke="#1b4252" stroke-width="0.75"/>
<circle cx="386.4" cy="423.5" r="1.3" fill="#5f9cb8" stroke="#1b4252" stroke-width="0.75"/>
<circle cx="386.4" cy="427" r="1.3" fill="#5f9cb8" stroke="#1b4252" stroke-width="0.75"/>
<polygon points="396.2,415.88 394.7,418.58 397.7,418.58" fill="#533522" stroke="#20140a" stroke-width="0.6" stroke-linejoin="round"/>
<polygon points="396.2,423.98 394.7,426.68 397.7,426.68" fill="#533522" stroke="#20140a" stroke-width="0.6" stroke-linejoin="round"/>
<polygon points="394.61,425.88 393.11,428.58 396.11,428.58" fill="#533522" stroke="#20140a" stroke-width="0.6" stroke-linejoin="round"/>
<polygon points="396.2,427.18 394.7,429.88 397.7,429.88" fill="#533522" stroke="#20140a" stroke-width="0.6" stroke-linejoin="round"/>
<line x1="405.8" y1="388" x2="405.8" y2="399.8" stroke="#6e6e6e" stroke-width="0.8"/>
<line x1="403" y1="393.3" x2="408.6" y2="393.3" stroke="#6e6e6e" stroke-width="0.8"/>
<circle cx="405.8" cy="382.5" r="1.3" fill="#5f9cb8" stroke="#1b4252" stroke-width="0.75"/>
<circle cx="405.8" cy="393.3" r="1.3" fill="#5f9cb8" stroke="#1b4252" stroke-width="0.75"/>
<circle cx="405.8" cy="405.2" r="1.3" fill="#5f9cb8" stroke="#1b4252" stroke-width="0.75"/>
<polygon points="415.2,409.98 413.7,412.68 416.7,412.68" fill="#533522" stroke="#20140a" stroke-width="0.6" stroke-linejoin="round"/>
<polygon points="415.2,417.78 413.7,420.48 416.7,420.48" fill="#533522" stroke="#20140a" stroke-width="0.6" stroke-linejoin="round"/>
<polygon points="415.2,420.48 413.7,423.18 416.7,423.18" fill="#533522" stroke="#20140a" stroke-width="0.6" stroke-linejoin="round"/>
<polygon points="415.2,423.18 413.7,425.88 416.7,425.88" fill="#533522" stroke="#20140a" stroke-width="0.6" stroke-linejoin="round"/>
<text x="377.7" y="447.8" font-size="6.1" text-anchor="middle" fill="#2b2b2b">Untr</text>
<text x="391.6" y="447.8" font-size="6.1" text-anchor="middle" fill="#2b2b2b">4h</text>
<text x="410.7" y="447.8" font-size="6.1" text-anchor="middle" fill="#2b2b2b">72h</text>
<line x1="386.6" y1="438.6" x2="396.4" y2="438.6" stroke="#7a7a7a" stroke-width="0.9"/>
<line x1="405.6" y1="438.6" x2="415.4" y2="438.6" stroke="#7a7a7a" stroke-width="0.9"/>
<line x1="387.8" y1="452.3" x2="414.6" y2="452.3" stroke="#7a7a7a" stroke-width="0.9"/>
<text x="401.5" y="460.8" font-size="6.1" text-anchor="middle" fill="#2b2b2b">post-IR</text>
<line x1="406.8" y1="375.5" x2="417.3" y2="375.5" stroke="#7a7a7a" stroke-width="0.8"/>
<line x1="407.2" y1="375.2" x2="407.2" y2="376.6" stroke="#7a7a7a" stroke-width="0.8"/>
<line x1="416.9" y1="375.2" x2="416.9" y2="376.6" stroke="#7a7a7a" stroke-width="0.8"/>
<text x="412.05" y="375.2" font-size="6" text-anchor="middle" fill="#333">**</text>
<circle cx="435.4" cy="251" r="1.9" fill="#5f9cb8" stroke="#1b4252" stroke-width="0.85"/>
<polygon points="435.4,257.82 433.2,261.78 437.6,261.78" fill="#533522" stroke="#20140a" stroke-width="0.7" stroke-linejoin="round"/>
<text x="440.8" y="253.2" font-size="6.3" text-anchor="start" fill="#2b2b2b" textLength="32.5" lengthAdjust="spacingAndGlyphs">Control IgG</text>
<text x="440.8" y="262" font-size="6.3" text-anchor="start" fill="#2b2b2b" textLength="33.2" lengthAdjust="spacingAndGlyphs">anti-IFNAR1</text>
<circle cx="435.4" cy="375" r="1.9" fill="#5f9cb8" stroke="#1b4252" stroke-width="0.85"/>
<polygon points="435.4,382.42 433.2,386.38 437.6,386.38" fill="#533522" stroke="#20140a" stroke-width="0.7" stroke-linejoin="round"/>
<text x="440.8" y="377.2" font-size="6.3" text-anchor="start" fill="#2b2b2b" textLength="32.5" lengthAdjust="spacingAndGlyphs">Control IgG</text>
<text x="440.8" y="386.6" font-size="6.3" text-anchor="start" fill="#2b2b2b" textLength="33.2" lengthAdjust="spacingAndGlyphs">anti-IFNAR1</text>
<line x1="135" y1="487.9" x2="413.3" y2="487.9" stroke="#4a4a4a" stroke-width="1.3"/>
<text x="260.8" y="482.7" font-size="8.5" text-anchor="start" fill="#2b2b2b" textLength="15.4" lengthAdjust="spacingAndGlyphs">LSK</text>
<text x="0" y="0" font-size="6.6" font-weight="bold" fill="#3a3a3a" text-anchor="middle" textLength="29.5" lengthAdjust="spacingAndGlyphs" transform="translate(111.98 531.8) rotate(-90)">mRNA/L32</text>
<line x1="136.3" y1="504.8" x2="136.3" y2="561.8" stroke="#1a1a1a" stroke-width="1.3"/>
<line x1="133.3" y1="561.8" x2="136.3" y2="561.8" stroke="#1a1a1a" stroke-width="1"/>
<text x="130.3" y="564.7" font-size="6.4" text-anchor="end" fill="#2b2b2b">0</text>
<line x1="133.3" y1="550.7" x2="136.3" y2="550.7" stroke="#1a1a1a" stroke-width="1"/>
<text x="130.3" y="553.6" font-size="6.4" text-anchor="end" fill="#2b2b2b">0.01</text>
<line x1="133.3" y1="539.6" x2="136.3" y2="539.6" stroke="#1a1a1a" stroke-width="1"/>
<text x="130.3" y="542.5" font-size="6.4" text-anchor="end" fill="#2b2b2b">0.02</text>
<line x1="133.3" y1="528.5" x2="136.3" y2="528.5" stroke="#1a1a1a" stroke-width="1"/>
<text x="130.3" y="531.4" font-size="6.4" text-anchor="end" fill="#2b2b2b">0.03</text>
<line x1="133.3" y1="517.4" x2="136.3" y2="517.4" stroke="#1a1a1a" stroke-width="1"/>
<text x="130.3" y="520.3" font-size="6.4" text-anchor="end" fill="#2b2b2b">0.04</text>
<line x1="133.3" y1="506.3" x2="136.3" y2="506.3" stroke="#1a1a1a" stroke-width="1"/>
<text x="130.3" y="509.2" font-size="6.4" text-anchor="end" fill="#2b2b2b">0.05</text>
<line x1="135.7" y1="561.8" x2="173.8" y2="561.8" stroke="#1a1a1a" stroke-width="1.4"/>
<text x="155.3" y="498.6" font-size="8.6" text-anchor="middle" fill="#2b2b2b" font-style="italic">Nfat5</text>
<line x1="142.3" y1="520" x2="142.3" y2="528" stroke="#6e6e6e" stroke-width="0.8"/>
<line x1="139.5" y1="524" x2="145.1" y2="524" stroke="#6e6e6e" stroke-width="0.8"/>
<circle cx="142.3" cy="509.3" r="1.35" fill="#731326" stroke="#33060f" stroke-width="0.55"/>
<circle cx="142.3" cy="513.7" r="1.35" fill="#731326" stroke="#33060f" stroke-width="0.55"/>
<circle cx="142.3" cy="525.2" r="1.35" fill="#731326" stroke="#33060f" stroke-width="0.55"/>
<circle cx="140.76" cy="526.6" r="1.35" fill="#731326" stroke="#33060f" stroke-width="0.55"/>
<circle cx="142.3" cy="530.4" r="1.35" fill="#731326" stroke="#33060f" stroke-width="0.55"/>
<circle cx="140.76" cy="531.8" r="1.35" fill="#731326" stroke="#33060f" stroke-width="0.55"/>
<circle cx="149.3" cy="561.5" r="1.35" fill="#1d5d78" stroke="#0d2f40" stroke-width="0.55"/>
<line x1="161.3" y1="517" x2="161.3" y2="528" stroke="#6e6e6e" stroke-width="0.8"/>
<line x1="158.5" y1="522.5" x2="164.1" y2="522.5" stroke="#6e6e6e" stroke-width="0.8"/>
<circle cx="161.3" cy="508.9" r="1.35" fill="#731326" stroke="#33060f" stroke-width="0.55"/>
<circle cx="161.3" cy="516.8" r="1.35" fill="#731326" stroke="#33060f" stroke-width="0.55"/>
<circle cx="161.3" cy="519.9" r="1.35" fill="#731326" stroke="#33060f" stroke-width="0.55"/>
<circle cx="161.3" cy="522.7" r="1.35" fill="#731326" stroke="#33060f" stroke-width="0.55"/>
<circle cx="161.3" cy="535.3" r="1.35" fill="#731326" stroke="#33060f" stroke-width="0.55"/>
<circle cx="161.3" cy="538" r="1.35" fill="#731326" stroke="#33060f" stroke-width="0.55"/>
<circle cx="168.3" cy="561.5" r="1.35" fill="#1d5d78" stroke="#0d2f40" stroke-width="0.55"/>
<text x="145.5" y="574.1" font-size="6.2" text-anchor="middle" fill="#2b2b2b">Untr</text>
<text x="163.9" y="574.1" font-size="6.2" text-anchor="middle" fill="#2b2b2b">IR</text>
<line x1="139.1" y1="566.4" x2="148.9" y2="566.4" stroke="#7a7a7a" stroke-width="0.9"/>
<line x1="158.7" y1="566.4" x2="168.7" y2="566.4" stroke="#7a7a7a" stroke-width="0.9"/>
<line x1="196" y1="504.8" x2="196" y2="561.8" stroke="#1a1a1a" stroke-width="1.3"/>
<line x1="193" y1="561.8" x2="196" y2="561.8" stroke="#1a1a1a" stroke-width="1"/>
<text x="190" y="564.7" font-size="6.4" text-anchor="end" fill="#2b2b2b">0</text>
<line x1="193" y1="543.3" x2="196" y2="543.3" stroke="#1a1a1a" stroke-width="1"/>
<text x="190" y="546.2" font-size="6.4" text-anchor="end" fill="#2b2b2b">0.05</text>
<line x1="193" y1="524.8" x2="196" y2="524.8" stroke="#1a1a1a" stroke-width="1"/>
<text x="190" y="527.7" font-size="6.4" text-anchor="end" fill="#2b2b2b">0.10</text>
<line x1="193" y1="506.3" x2="196" y2="506.3" stroke="#1a1a1a" stroke-width="1"/>
<text x="190" y="509.2" font-size="6.4" text-anchor="end" fill="#2b2b2b">0.15</text>
<line x1="195.4" y1="561.8" x2="234.8" y2="561.8" stroke="#1a1a1a" stroke-width="1.4"/>
<text x="215.9" y="498.6" font-size="8.6" text-anchor="middle" fill="#2b2b2b" font-style="italic">Irf7</text>
<circle cx="202" cy="556.5" r="1.35" fill="#731326" stroke="#33060f" stroke-width="0.55"/>
<circle cx="200.46" cy="558" r="1.35" fill="#731326" stroke="#33060f" stroke-width="0.55"/>
<circle cx="202" cy="559.5" r="1.35" fill="#731326" stroke="#33060f" stroke-width="0.55"/>
<circle cx="198.92" cy="560.5" r="1.35" fill="#731326" stroke="#33060f" stroke-width="0.55"/>
<circle cx="209" cy="558.5" r="1.35" fill="#1d5d78" stroke="#0d2f40" stroke-width="0.55"/>
<circle cx="205.92" cy="559.5" r="1.35" fill="#1d5d78" stroke="#0d2f40" stroke-width="0.55"/>
<circle cx="209" cy="560.5" r="1.35" fill="#1d5d78" stroke="#0d2f40" stroke-width="0.55"/>
<line x1="221" y1="533" x2="221" y2="542" stroke="#6e6e6e" stroke-width="0.8"/>
<line x1="218.2" y1="537.7" x2="223.8" y2="537.7" stroke="#6e6e6e" stroke-width="0.8"/>
<circle cx="221" cy="519.3" r="1.35" fill="#731326" stroke="#33060f" stroke-width="0.55"/>
<circle cx="221" cy="536" r="1.35" fill="#731326" stroke="#33060f" stroke-width="0.55"/>
<circle cx="221" cy="539.8" r="1.35" fill="#731326" stroke="#33060f" stroke-width="0.55"/>
<circle cx="221" cy="544" r="1.35" fill="#731326" stroke="#33060f" stroke-width="0.55"/>
<circle cx="221" cy="547.8" r="1.35" fill="#731326" stroke="#33060f" stroke-width="0.55"/>
<line x1="228" y1="539" x2="228" y2="545" stroke="#6e6e6e" stroke-width="0.8"/>
<line x1="225.2" y1="542" x2="230.8" y2="542" stroke="#6e6e6e" stroke-width="0.8"/>
<circle cx="228" cy="538" r="1.35" fill="#1d5d78" stroke="#0d2f40" stroke-width="0.55"/>
<circle cx="228" cy="542" r="1.35" fill="#1d5d78" stroke="#0d2f40" stroke-width="0.55"/>
<circle cx="228" cy="546" r="1.35" fill="#1d5d78" stroke="#0d2f40" stroke-width="0.55"/>
<text x="205.2" y="574.1" font-size="6.2" text-anchor="middle" fill="#2b2b2b">Untr</text>
<text x="223.6" y="574.1" font-size="6.2" text-anchor="middle" fill="#2b2b2b">IR</text>
<line x1="198.8" y1="566.4" x2="208.6" y2="566.4" stroke="#7a7a7a" stroke-width="0.9"/>
<line x1="218.4" y1="566.4" x2="228.4" y2="566.4" stroke="#7a7a7a" stroke-width="0.9"/>
<line x1="256.6" y1="504.8" x2="256.6" y2="561.8" stroke="#1a1a1a" stroke-width="1.3"/>
<line x1="253.6" y1="561.8" x2="256.6" y2="561.8" stroke="#1a1a1a" stroke-width="1"/>
<text x="250.6" y="564.7" font-size="6.4" text-anchor="end" fill="#2b2b2b">0</text>
<line x1="253.6" y1="543.3" x2="256.6" y2="543.3" stroke="#1a1a1a" stroke-width="1"/>
<text x="250.6" y="546.2" font-size="6.4" text-anchor="end" fill="#2b2b2b">0.02</text>
<line x1="253.6" y1="524.8" x2="256.6" y2="524.8" stroke="#1a1a1a" stroke-width="1"/>
<text x="250.6" y="527.7" font-size="6.4" text-anchor="end" fill="#2b2b2b">0.04</text>
<line x1="253.6" y1="506.3" x2="256.6" y2="506.3" stroke="#1a1a1a" stroke-width="1"/>
<text x="250.6" y="509.2" font-size="6.4" text-anchor="end" fill="#2b2b2b">0.06</text>
<line x1="256" y1="561.8" x2="294.6" y2="561.8" stroke="#1a1a1a" stroke-width="1.4"/>
<text x="276.2" y="498.6" font-size="8.6" text-anchor="middle" fill="#2b2b2b" font-style="italic">Ifit2</text>
<circle cx="262.6" cy="549.3" r="1.35" fill="#731326" stroke="#33060f" stroke-width="0.55"/>
<circle cx="261.06" cy="551" r="1.35" fill="#731326" stroke="#33060f" stroke-width="0.55"/>
<circle cx="262.6" cy="552.5" r="1.35" fill="#731326" stroke="#33060f" stroke-width="0.55"/>
<circle cx="259.52" cy="553.5" r="1.35" fill="#731326" stroke="#33060f" stroke-width="0.55"/>
<circle cx="262.6" cy="554.6" r="1.35" fill="#731326" stroke="#33060f" stroke-width="0.55"/>
<circle cx="269.6" cy="548.7" r="1.35" fill="#1d5d78" stroke="#0d2f40" stroke-width="0.55"/>
<circle cx="269.6" cy="553.6" r="1.35" fill="#1d5d78" stroke="#0d2f40" stroke-width="0.55"/>
<circle cx="268.06" cy="555" r="1.35" fill="#1d5d78" stroke="#0d2f40" stroke-width="0.55"/>
<circle cx="269.6" cy="556.3" r="1.35" fill="#1d5d78" stroke="#0d2f40" stroke-width="0.55"/>
<line x1="281.6" y1="524" x2="281.6" y2="534" stroke="#6e6e6e" stroke-width="0.8"/>
<line x1="278.8" y1="529.2" x2="284.4" y2="529.2" stroke="#6e6e6e" stroke-width="0.8"/>
<circle cx="281.6" cy="512.3" r="1.35" fill="#731326" stroke="#33060f" stroke-width="0.55"/>
<circle cx="281.6" cy="525.4" r="1.35" fill="#731326" stroke="#33060f" stroke-width="0.55"/>
<circle cx="280.06" cy="527" r="1.35" fill="#731326" stroke="#33060f" stroke-width="0.55"/>
<circle cx="281.6" cy="539.8" r="1.35" fill="#731326" stroke="#33060f" stroke-width="0.55"/>
<circle cx="278.52" cy="540.2" r="1.35" fill="#731326" stroke="#33060f" stroke-width="0.55"/>
<line x1="288.6" y1="530" x2="288.6" y2="537" stroke="#6e6e6e" stroke-width="0.8"/>
<line x1="285.8" y1="533" x2="291.4" y2="533" stroke="#6e6e6e" stroke-width="0.8"/>
<circle cx="288.6" cy="528.8" r="1.35" fill="#1d5d78" stroke="#0d2f40" stroke-width="0.55"/>
<circle cx="288.6" cy="531" r="1.35" fill="#1d5d78" stroke="#0d2f40" stroke-width="0.55"/>
<circle cx="288.6" cy="542" r="1.35" fill="#1d5d78" stroke="#0d2f40" stroke-width="0.55"/>
<text x="265.8" y="574.1" font-size="6.2" text-anchor="middle" fill="#2b2b2b">Untr</text>
<text x="284.2" y="574.1" font-size="6.2" text-anchor="middle" fill="#2b2b2b">IR</text>
<line x1="259.4" y1="566.4" x2="269.2" y2="566.4" stroke="#7a7a7a" stroke-width="0.9"/>
<line x1="279" y1="566.4" x2="289" y2="566.4" stroke="#7a7a7a" stroke-width="0.9"/>
<line x1="321.6" y1="504.8" x2="321.6" y2="561.8" stroke="#1a1a1a" stroke-width="1.3"/>
<line x1="318.6" y1="561.8" x2="321.6" y2="561.8" stroke="#1a1a1a" stroke-width="1"/>
<text x="315.6" y="564.7" font-size="6.4" text-anchor="end" fill="#2b2b2b">0</text>
<line x1="318.6" y1="550.7" x2="321.6" y2="550.7" stroke="#1a1a1a" stroke-width="1"/>
<text x="315.6" y="553.6" font-size="6.4" text-anchor="end" fill="#2b2b2b">0.005</text>
<line x1="318.6" y1="539.6" x2="321.6" y2="539.6" stroke="#1a1a1a" stroke-width="1"/>
<text x="315.6" y="542.5" font-size="6.4" text-anchor="end" fill="#2b2b2b">0.010</text>
<line x1="318.6" y1="528.5" x2="321.6" y2="528.5" stroke="#1a1a1a" stroke-width="1"/>
<text x="315.6" y="531.4" font-size="6.4" text-anchor="end" fill="#2b2b2b">0.015</text>
<line x1="318.6" y1="517.4" x2="321.6" y2="517.4" stroke="#1a1a1a" stroke-width="1"/>
<text x="315.6" y="520.3" font-size="6.4" text-anchor="end" fill="#2b2b2b">0.020</text>
<line x1="318.6" y1="506.3" x2="321.6" y2="506.3" stroke="#1a1a1a" stroke-width="1"/>
<text x="315.6" y="509.2" font-size="6.4" text-anchor="end" fill="#2b2b2b">0.025</text>
<line x1="321" y1="561.8" x2="357.2" y2="561.8" stroke="#1a1a1a" stroke-width="1.4"/>
<text x="340.8" y="497.6" font-size="8.6" text-anchor="middle" fill="#2b2b2b" font-style="italic">Cxcl9</text>
<circle cx="327.6" cy="555.4" r="1.35" fill="#731326" stroke="#33060f" stroke-width="0.55"/>
<circle cx="327.6" cy="558.9" r="1.35" fill="#731326" stroke="#33060f" stroke-width="0.55"/>
<circle cx="326.06" cy="560.7" r="1.35" fill="#731326" stroke="#33060f" stroke-width="0.55"/>
<circle cx="334.6" cy="558.2" r="1.35" fill="#1d5d78" stroke="#0d2f40" stroke-width="0.55"/>
<circle cx="331.52" cy="559" r="1.35" fill="#1d5d78" stroke="#0d2f40" stroke-width="0.55"/>
<circle cx="336.14" cy="560" r="1.35" fill="#1d5d78" stroke="#0d2f40" stroke-width="0.55"/>
<line x1="346.6" y1="525.4" x2="346.6" y2="540.4" stroke="#6e6e6e" stroke-width="0.8"/>
<line x1="343.8" y1="533" x2="349.4" y2="533" stroke="#6e6e6e" stroke-width="0.8"/>
<circle cx="346.6" cy="509.7" r="1.35" fill="#731326" stroke="#33060f" stroke-width="0.55"/>
<circle cx="346.6" cy="524.9" r="1.35" fill="#731326" stroke="#33060f" stroke-width="0.55"/>
<circle cx="343.52" cy="525.8" r="1.35" fill="#731326" stroke="#33060f" stroke-width="0.55"/>
<circle cx="346.6" cy="544.5" r="1.35" fill="#731326" stroke="#33060f" stroke-width="0.55"/>
<circle cx="345.06" cy="545.7" r="1.35" fill="#731326" stroke="#33060f" stroke-width="0.55"/>
<circle cx="346.6" cy="549.6" r="1.35" fill="#731326" stroke="#33060f" stroke-width="0.55"/>
<line x1="353.6" y1="526.5" x2="353.6" y2="550.8" stroke="#6e6e6e" stroke-width="0.8"/>
<line x1="350.8" y1="538.5" x2="356.4" y2="538.5" stroke="#6e6e6e" stroke-width="0.8"/>
<circle cx="353.6" cy="517.3" r="1.35" fill="#1d5d78" stroke="#0d2f40" stroke-width="0.55"/>
<circle cx="353.6" cy="541.5" r="1.35" fill="#1d5d78" stroke="#0d2f40" stroke-width="0.55"/>
<circle cx="353.6" cy="556.5" r="1.35" fill="#1d5d78" stroke="#0d2f40" stroke-width="0.55"/>
<text x="330.8" y="574.1" font-size="6.2" text-anchor="middle" fill="#2b2b2b">Untr</text>
<text x="349.2" y="574.1" font-size="6.2" text-anchor="middle" fill="#2b2b2b">IR</text>
<line x1="324.4" y1="566.4" x2="334.2" y2="566.4" stroke="#7a7a7a" stroke-width="0.9"/>
<line x1="344" y1="566.4" x2="354" y2="566.4" stroke="#7a7a7a" stroke-width="0.9"/>
<line x1="377.2" y1="504.8" x2="377.2" y2="561.8" stroke="#1a1a1a" stroke-width="1.3"/>
<line x1="374.2" y1="561.8" x2="377.2" y2="561.8" stroke="#1a1a1a" stroke-width="1"/>
<text x="371.2" y="564.7" font-size="6.4" text-anchor="end" fill="#2b2b2b">0</text>
<line x1="374.2" y1="547.92" x2="377.2" y2="547.92" stroke="#1a1a1a" stroke-width="1"/>
<text x="371.2" y="550.83" font-size="6.4" text-anchor="end" fill="#2b2b2b">0.2</text>
<line x1="374.2" y1="534.05" x2="377.2" y2="534.05" stroke="#1a1a1a" stroke-width="1"/>
<text x="371.2" y="536.95" font-size="6.4" text-anchor="end" fill="#2b2b2b">0.4</text>
<line x1="374.2" y1="520.17" x2="377.2" y2="520.17" stroke="#1a1a1a" stroke-width="1"/>
<text x="371.2" y="523.08" font-size="6.4" text-anchor="end" fill="#2b2b2b">0.6</text>
<line x1="374.2" y1="506.3" x2="377.2" y2="506.3" stroke="#1a1a1a" stroke-width="1"/>
<text x="371.2" y="509.2" font-size="6.4" text-anchor="end" fill="#2b2b2b">0.8</text>
<line x1="376.6" y1="561.8" x2="416.1" y2="561.8" stroke="#1a1a1a" stroke-width="1.4"/>
<text x="396.9" y="497.6" font-size="8.6" text-anchor="middle" fill="#2b2b2b" font-style="italic">Sca1</text>
<circle cx="383.2" cy="552.6" r="1.35" fill="#731326" stroke="#33060f" stroke-width="0.55"/>
<circle cx="381.66" cy="554" r="1.35" fill="#731326" stroke="#33060f" stroke-width="0.55"/>
<circle cx="383.2" cy="555.5" r="1.35" fill="#731326" stroke="#33060f" stroke-width="0.55"/>
<circle cx="381.66" cy="557.2" r="1.35" fill="#731326" stroke="#33060f" stroke-width="0.55"/>
<circle cx="390.2" cy="554.2" r="1.35" fill="#1d5d78" stroke="#0d2f40" stroke-width="0.55"/>
<circle cx="388.66" cy="556" r="1.35" fill="#1d5d78" stroke="#0d2f40" stroke-width="0.55"/>
<circle cx="391.74" cy="557" r="1.35" fill="#1d5d78" stroke="#0d2f40" stroke-width="0.55"/>
<circle cx="390.2" cy="558.4" r="1.35" fill="#1d5d78" stroke="#0d2f40" stroke-width="0.55"/>
<line x1="402.2" y1="525" x2="402.2" y2="533" stroke="#6e6e6e" stroke-width="0.8"/>
<line x1="399.4" y1="529" x2="405" y2="529" stroke="#6e6e6e" stroke-width="0.8"/>
<circle cx="402.2" cy="515.5" r="1.35" fill="#731326" stroke="#33060f" stroke-width="0.55"/>
<circle cx="402.2" cy="522.6" r="1.35" fill="#731326" stroke="#33060f" stroke-width="0.55"/>
<circle cx="402.2" cy="527.7" r="1.35" fill="#731326" stroke="#33060f" stroke-width="0.55"/>
<circle cx="402.2" cy="530.5" r="1.35" fill="#731326" stroke="#33060f" stroke-width="0.55"/>
<circle cx="402.2" cy="535" r="1.35" fill="#731326" stroke="#33060f" stroke-width="0.55"/>
<circle cx="402.2" cy="538" r="1.35" fill="#731326" stroke="#33060f" stroke-width="0.55"/>
<line x1="409.2" y1="526" x2="409.2" y2="532" stroke="#6e6e6e" stroke-width="0.8"/>
<line x1="406.4" y1="529" x2="412" y2="529" stroke="#6e6e6e" stroke-width="0.8"/>
<circle cx="409.2" cy="522.8" r="1.35" fill="#1d5d78" stroke="#0d2f40" stroke-width="0.55"/>
<circle cx="409.2" cy="529.1" r="1.35" fill="#1d5d78" stroke="#0d2f40" stroke-width="0.55"/>
<circle cx="409.2" cy="531.4" r="1.35" fill="#1d5d78" stroke="#0d2f40" stroke-width="0.55"/>
<circle cx="407.66" cy="532.9" r="1.35" fill="#1d5d78" stroke="#0d2f40" stroke-width="0.55"/>
<text x="386.4" y="574.1" font-size="6.2" text-anchor="middle" fill="#2b2b2b">Untr</text>
<text x="404.8" y="574.1" font-size="6.2" text-anchor="middle" fill="#2b2b2b">IR</text>
<line x1="380" y1="566.4" x2="389.8" y2="566.4" stroke="#7a7a7a" stroke-width="0.9"/>
<line x1="399.6" y1="566.4" x2="409.6" y2="566.4" stroke="#7a7a7a" stroke-width="0.9"/>
<circle cx="440.1" cy="515.5" r="1.9" fill="#731326" stroke="#33060f" stroke-width="0.5"/>
<circle cx="440.1" cy="524.6" r="1.9" fill="#1d5d78" stroke="#0d2f40" stroke-width="0.5"/>
<text x="445.6" y="517.7" font-size="6.3" fill="#2b2b2b"><tspan font-style="italic">Nfat5</tspan><tspan font-size="3.8" dy="-2.4">+/+</tspan><tspan dy="2.4"> Vav-Cre</tspan></text>
<text x="445.6" y="526.8" font-size="6.3" fill="#2b2b2b"><tspan font-style="italic">Nfat5</tspan><tspan font-size="3.8" dy="-2.4">fl/fl</tspan><tspan dy="2.4"> Vav-Cre</tspan></text>
<line x1="38" y1="594.8" x2="302" y2="594.8" stroke="#4a4a4a" stroke-width="1.3"/>
<text x="140.8" y="589.4" font-size="8" text-anchor="start" fill="#2b2b2b" textLength="28.6" lengthAdjust="spacingAndGlyphs">Lineage</text>
<text x="172" y="586.4" font-size="5" text-anchor="start" fill="#2b2b2b" textLength="10.1" lengthAdjust="spacingAndGlyphs">neg</text>
<line x1="323" y1="594.8" x2="513.3" y2="594.8" stroke="#4a4a4a" stroke-width="1.3"/>
<text x="391.9" y="589.4" font-size="8" text-anchor="start" fill="#2b2b2b" textLength="28.5" lengthAdjust="spacingAndGlyphs">Lineage</text>
<text x="423.2" y="587.2" font-size="6.5" text-anchor="start" fill="#2b2b2b">+</text>
<text x="0" y="0" font-size="6.6" font-weight="bold" fill="#3a3a3a" text-anchor="middle" textLength="29.5" lengthAdjust="spacingAndGlyphs" transform="translate(13.68 640.8) rotate(-90)">mRNA/L32</text>
<line x1="38.3" y1="612.3" x2="38.3" y2="670" stroke="#1a1a1a" stroke-width="1.3"/>
<line x1="35.3" y1="670" x2="38.3" y2="670" stroke="#1a1a1a" stroke-width="1"/>
<text x="32.3" y="672.9" font-size="6.4" text-anchor="end" fill="#2b2b2b">0</text>
<line x1="35.3" y1="655.95" x2="38.3" y2="655.95" stroke="#1a1a1a" stroke-width="1"/>
<text x="32.3" y="658.85" font-size="6.4" text-anchor="end" fill="#2b2b2b">0.02</text>
<line x1="35.3" y1="641.9" x2="38.3" y2="641.9" stroke="#1a1a1a" stroke-width="1"/>
<text x="32.3" y="644.8" font-size="6.4" text-anchor="end" fill="#2b2b2b">0.04</text>
<line x1="35.3" y1="627.85" x2="38.3" y2="627.85" stroke="#1a1a1a" stroke-width="1"/>
<text x="32.3" y="630.75" font-size="6.4" text-anchor="end" fill="#2b2b2b">0.06</text>
<line x1="35.3" y1="613.8" x2="38.3" y2="613.8" stroke="#1a1a1a" stroke-width="1"/>
<text x="32.3" y="616.7" font-size="6.4" text-anchor="end" fill="#2b2b2b">0.08</text>
<line x1="37.7" y1="670" x2="86.8" y2="670" stroke="#1a1a1a" stroke-width="1.4"/>
<text x="62.5" y="606.1" font-size="8.6" text-anchor="middle" fill="#2b2b2b" font-style="italic">Irf7</text>
<circle cx="42.8" cy="660" r="1.35" fill="#731326" stroke="#33060f" stroke-width="0.55"/>
<circle cx="41.26" cy="661.5" r="1.35" fill="#731326" stroke="#33060f" stroke-width="0.55"/>
<circle cx="42.8" cy="663" r="1.35" fill="#731326" stroke="#33060f" stroke-width="0.55"/>
<circle cx="41.26" cy="664.5" r="1.35" fill="#731326" stroke="#33060f" stroke-width="0.55"/>
<circle cx="44.34" cy="665.5" r="1.35" fill="#731326" stroke="#33060f" stroke-width="0.55"/>
<circle cx="45.88" cy="662" r="1.35" fill="#731326" stroke="#33060f" stroke-width="0.55"/>
<circle cx="49.6" cy="662.5" r="1.35" fill="#1d5d78" stroke="#0d2f40" stroke-width="0.55"/>
<circle cx="48.06" cy="664" r="1.35" fill="#1d5d78" stroke="#0d2f40" stroke-width="0.55"/>
<circle cx="49.6" cy="666" r="1.35" fill="#1d5d78" stroke="#0d2f40" stroke-width="0.55"/>
<line x1="59.5" y1="630.5" x2="59.5" y2="640.5" stroke="#6e6e6e" stroke-width="0.8"/>
<line x1="56.7" y1="635" x2="62.3" y2="635" stroke="#6e6e6e" stroke-width="0.8"/>
<circle cx="59.5" cy="620.5" r="1.35" fill="#731326" stroke="#33060f" stroke-width="0.55"/>
<circle cx="59.5" cy="626.3" r="1.35" fill="#731326" stroke="#33060f" stroke-width="0.55"/>
<circle cx="59.5" cy="635" r="1.35" fill="#731326" stroke="#33060f" stroke-width="0.55"/>
<circle cx="59.5" cy="646.3" r="1.35" fill="#731326" stroke="#33060f" stroke-width="0.55"/>
<circle cx="57.96" cy="647.5" r="1.35" fill="#731326" stroke="#33060f" stroke-width="0.55"/>
<circle cx="65.9" cy="643.3" r="1.35" fill="#1d5d78" stroke="#0d2f40" stroke-width="0.55"/>
<line x1="75.3" y1="655.5" x2="75.3" y2="660.5" stroke="#6e6e6e" stroke-width="0.8"/>
<line x1="72.5" y1="658" x2="78.1" y2="658" stroke="#6e6e6e" stroke-width="0.8"/>
<circle cx="75.3" cy="653" r="1.35" fill="#731326" stroke="#33060f" stroke-width="0.55"/>
<circle cx="75.3" cy="658.8" r="1.35" fill="#731326" stroke="#33060f" stroke-width="0.55"/>
<circle cx="75.3" cy="663" r="1.35" fill="#731326" stroke="#33060f" stroke-width="0.55"/>
<circle cx="81.9" cy="660" r="1.35" fill="#1d5d78" stroke="#0d2f40" stroke-width="0.55"/>
<circle cx="80.36" cy="661.3" r="1.35" fill="#1d5d78" stroke="#0d2f40" stroke-width="0.55"/>
<circle cx="81.9" cy="662.5" r="1.35" fill="#1d5d78" stroke="#0d2f40" stroke-width="0.55"/>
<text x="46.3" y="684.3" font-size="6.2" text-anchor="middle" fill="#2b2b2b">Untr</text>
<text x="62.6" y="684.3" font-size="6.2" text-anchor="middle" fill="#2b2b2b">6h</text>
<text x="78.9" y="684.3" font-size="6.2" text-anchor="middle" fill="#2b2b2b">72h</text>
<line x1="40.8" y1="676.2" x2="50.7" y2="676.2" stroke="#7a7a7a" stroke-width="0.9"/>
<line x1="58.3" y1="676.2" x2="67.3" y2="676.2" stroke="#7a7a7a" stroke-width="0.9"/>
<line x1="74.7" y1="676.2" x2="84.2" y2="676.2" stroke="#7a7a7a" stroke-width="0.9"/>
<line x1="58.1" y1="689.2" x2="84.6" y2="689.2" stroke="#7a7a7a" stroke-width="0.9"/>
<text x="71.3" y="697.9" font-size="6.2" text-anchor="middle" fill="#2b2b2b">post-IR</text>
<line x1="109.5" y1="612.3" x2="109.5" y2="670" stroke="#1a1a1a" stroke-width="1.3"/>
<line x1="106.5" y1="670" x2="109.5" y2="670" stroke="#1a1a1a" stroke-width="1"/>
<text x="103.5" y="672.9" font-size="6.4" text-anchor="end" fill="#2b2b2b">0</text>
<line x1="106.5" y1="658.76" x2="109.5" y2="658.76" stroke="#1a1a1a" stroke-width="1"/>
<text x="103.5" y="661.66" font-size="6.4" text-anchor="end" fill="#2b2b2b">0.01</text>
<line x1="106.5" y1="647.52" x2="109.5" y2="647.52" stroke="#1a1a1a" stroke-width="1"/>
<text x="103.5" y="650.42" font-size="6.4" text-anchor="end" fill="#2b2b2b">0.02</text>
<line x1="106.5" y1="636.28" x2="109.5" y2="636.28" stroke="#1a1a1a" stroke-width="1"/>
<text x="103.5" y="639.18" font-size="6.4" text-anchor="end" fill="#2b2b2b">0.03</text>
<line x1="106.5" y1="625.04" x2="109.5" y2="625.04" stroke="#1a1a1a" stroke-width="1"/>
<text x="103.5" y="627.94" font-size="6.4" text-anchor="end" fill="#2b2b2b">0.04</text>
<line x1="106.5" y1="613.8" x2="109.5" y2="613.8" stroke="#1a1a1a" stroke-width="1"/>
<text x="103.5" y="616.7" font-size="6.4" text-anchor="end" fill="#2b2b2b">0.05</text>
<line x1="108.9" y1="670" x2="158" y2="670" stroke="#1a1a1a" stroke-width="1.4"/>
<text x="134.1" y="606.1" font-size="8.6" text-anchor="middle" fill="#2b2b2b" font-style="italic">Ifit2</text>
<circle cx="114" cy="653.8" r="1.35" fill="#731326" stroke="#33060f" stroke-width="0.55"/>
<circle cx="114" cy="656" r="1.35" fill="#731326" stroke="#33060f" stroke-width="0.55"/>
<circle cx="114" cy="658" r="1.35" fill="#731326" stroke="#33060f" stroke-width="0.55"/>
<circle cx="114" cy="660" r="1.35" fill="#731326" stroke="#33060f" stroke-width="0.55"/>
<circle cx="114" cy="662.5" r="1.35" fill="#731326" stroke="#33060f" stroke-width="0.55"/>
<circle cx="120.8" cy="656.3" r="1.35" fill="#1d5d78" stroke="#0d2f40" stroke-width="0.55"/>
<circle cx="120.8" cy="660" r="1.35" fill="#1d5d78" stroke="#0d2f40" stroke-width="0.55"/>
<circle cx="120.8" cy="663" r="1.35" fill="#1d5d78" stroke="#0d2f40" stroke-width="0.55"/>
<line x1="130.7" y1="632" x2="130.7" y2="638" stroke="#6e6e6e" stroke-width="0.8"/>
<line x1="127.9" y1="635" x2="133.5" y2="635" stroke="#6e6e6e" stroke-width="0.8"/>
<circle cx="130.7" cy="625" r="1.35" fill="#731326" stroke="#33060f" stroke-width="0.55"/>
<circle cx="130.7" cy="631.3" r="1.35" fill="#731326" stroke="#33060f" stroke-width="0.55"/>
<circle cx="130.7" cy="634.3" r="1.35" fill="#731326" stroke="#33060f" stroke-width="0.55"/>
<circle cx="130.7" cy="636.3" r="1.35" fill="#731326" stroke="#33060f" stroke-width="0.55"/>
<circle cx="130.7" cy="639.5" r="1.35" fill="#731326" stroke="#33060f" stroke-width="0.55"/>
<circle cx="130.7" cy="643.8" r="1.35" fill="#731326" stroke="#33060f" stroke-width="0.55"/>
<line x1="137.1" y1="642.5" x2="137.1" y2="651.3" stroke="#6e6e6e" stroke-width="0.8"/>
<line x1="134.3" y1="647.5" x2="139.9" y2="647.5" stroke="#6e6e6e" stroke-width="0.8"/>
<circle cx="137.1" cy="642" r="1.35" fill="#1d5d78" stroke="#0d2f40" stroke-width="0.55"/>
<circle cx="137.1" cy="651.3" r="1.35" fill="#1d5d78" stroke="#0d2f40" stroke-width="0.55"/>
<circle cx="146.5" cy="656.3" r="1.35" fill="#731326" stroke="#33060f" stroke-width="0.55"/>
<circle cx="146.5" cy="660" r="1.35" fill="#731326" stroke="#33060f" stroke-width="0.55"/>
<circle cx="146.5" cy="663.3" r="1.35" fill="#731326" stroke="#33060f" stroke-width="0.55"/>
<circle cx="153.1" cy="659.5" r="1.35" fill="#1d5d78" stroke="#0d2f40" stroke-width="0.55"/>
<circle cx="151.56" cy="661.3" r="1.35" fill="#1d5d78" stroke="#0d2f40" stroke-width="0.55"/>
<text x="117.5" y="684.3" font-size="6.2" text-anchor="middle" fill="#2b2b2b">Untr</text>
<text x="133.8" y="684.3" font-size="6.2" text-anchor="middle" fill="#2b2b2b">6h</text>
<text x="150.1" y="684.3" font-size="6.2" text-anchor="middle" fill="#2b2b2b">72h</text>
<line x1="112" y1="676.2" x2="121.9" y2="676.2" stroke="#7a7a7a" stroke-width="0.9"/>
<line x1="129.5" y1="676.2" x2="138.5" y2="676.2" stroke="#7a7a7a" stroke-width="0.9"/>
<line x1="145.9" y1="676.2" x2="155.4" y2="676.2" stroke="#7a7a7a" stroke-width="0.9"/>
<line x1="129.3" y1="689.2" x2="155.8" y2="689.2" stroke="#7a7a7a" stroke-width="0.9"/>
<text x="142.5" y="697.9" font-size="6.2" text-anchor="middle" fill="#2b2b2b">post-IR</text>
<line x1="130" y1="620" x2="141.3" y2="620" stroke="#7a7a7a" stroke-width="0.8"/>
<line x1="130.4" y1="619.7" x2="130.4" y2="621.1" stroke="#7a7a7a" stroke-width="0.8"/>
<line x1="140.9" y1="619.7" x2="140.9" y2="621.1" stroke="#7a7a7a" stroke-width="0.8"/>
<text x="135.65" y="619.7" font-size="6" text-anchor="middle" fill="#333">*</text>
<line x1="180.8" y1="612.3" x2="180.8" y2="670" stroke="#1a1a1a" stroke-width="1.3"/>
<line x1="177.8" y1="670" x2="180.8" y2="670" stroke="#1a1a1a" stroke-width="1"/>
<text x="174.8" y="672.9" font-size="6.4" text-anchor="end" fill="#2b2b2b">0</text>
<line x1="177.8" y1="655.95" x2="180.8" y2="655.95" stroke="#1a1a1a" stroke-width="1"/>
<text x="174.8" y="658.85" font-size="6.4" text-anchor="end" fill="#2b2b2b">0.01</text>
<line x1="177.8" y1="641.9" x2="180.8" y2="641.9" stroke="#1a1a1a" stroke-width="1"/>
<text x="174.8" y="644.8" font-size="6.4" text-anchor="end" fill="#2b2b2b">0.02</text>
<line x1="177.8" y1="627.85" x2="180.8" y2="627.85" stroke="#1a1a1a" stroke-width="1"/>
<text x="174.8" y="630.75" font-size="6.4" text-anchor="end" fill="#2b2b2b">0.03</text>
<line x1="177.8" y1="613.8" x2="180.8" y2="613.8" stroke="#1a1a1a" stroke-width="1"/>
<text x="174.8" y="616.7" font-size="6.4" text-anchor="end" fill="#2b2b2b">0.04</text>
<line x1="180.2" y1="670" x2="229.3" y2="670" stroke="#1a1a1a" stroke-width="1.4"/>
<text x="205" y="606.1" font-size="8.6" text-anchor="middle" fill="#2b2b2b" font-style="italic">Cxcl9</text>
<circle cx="185.3" cy="662" r="1.35" fill="#731326" stroke="#33060f" stroke-width="0.55"/>
<circle cx="185.3" cy="665" r="1.35" fill="#731326" stroke="#33060f" stroke-width="0.55"/>
<circle cx="185.3" cy="667" r="1.35" fill="#731326" stroke="#33060f" stroke-width="0.55"/>
<circle cx="182.22" cy="667.5" r="1.35" fill="#731326" stroke="#33060f" stroke-width="0.55"/>
<circle cx="192.1" cy="663.8" r="1.35" fill="#1d5d78" stroke="#0d2f40" stroke-width="0.55"/>
<circle cx="192.1" cy="666.3" r="1.35" fill="#1d5d78" stroke="#0d2f40" stroke-width="0.55"/>
<circle cx="190.56" cy="667.5" r="1.35" fill="#1d5d78" stroke="#0d2f40" stroke-width="0.55"/>
<circle cx="202" cy="652" r="1.35" fill="#731326" stroke="#33060f" stroke-width="0.55"/>
<circle cx="202" cy="654.5" r="1.35" fill="#731326" stroke="#33060f" stroke-width="0.55"/>
<circle cx="200.46" cy="656.3" r="1.35" fill="#731326" stroke="#33060f" stroke-width="0.55"/>
<circle cx="202" cy="661.3" r="1.35" fill="#731326" stroke="#33060f" stroke-width="0.55"/>
<circle cx="200.46" cy="662.5" r="1.35" fill="#731326" stroke="#33060f" stroke-width="0.55"/>
<line x1="208.4" y1="660" x2="208.4" y2="665" stroke="#6e6e6e" stroke-width="0.8"/>
<line x1="205.6" y1="662.5" x2="211.2" y2="662.5" stroke="#6e6e6e" stroke-width="0.8"/>
<circle cx="208.4" cy="657" r="1.35" fill="#1d5d78" stroke="#0d2f40" stroke-width="0.55"/>
<circle cx="208.4" cy="663.8" r="1.35" fill="#1d5d78" stroke="#0d2f40" stroke-width="0.55"/>
<circle cx="206.86" cy="665" r="1.35" fill="#1d5d78" stroke="#0d2f40" stroke-width="0.55"/>
<line x1="217.8" y1="643" x2="217.8" y2="651.3" stroke="#6e6e6e" stroke-width="0.8"/>
<line x1="215" y1="647.5" x2="220.6" y2="647.5" stroke="#6e6e6e" stroke-width="0.8"/>
<circle cx="217.8" cy="628.3" r="1.35" fill="#731326" stroke="#33060f" stroke-width="0.55"/>
<circle cx="217.8" cy="647.5" r="1.35" fill="#731326" stroke="#33060f" stroke-width="0.55"/>
<circle cx="217.8" cy="654.5" r="1.35" fill="#731326" stroke="#33060f" stroke-width="0.55"/>
<circle cx="217.8" cy="657" r="1.35" fill="#731326" stroke="#33060f" stroke-width="0.55"/>
<line x1="224.4" y1="639" x2="224.4" y2="652" stroke="#6e6e6e" stroke-width="0.8"/>
<line x1="221.6" y1="645.7" x2="227.2" y2="645.7" stroke="#6e6e6e" stroke-width="0.8"/>
<circle cx="224.4" cy="627.8" r="1.35" fill="#1d5d78" stroke="#0d2f40" stroke-width="0.55"/>
<circle cx="223.8" cy="639.9" r="1.35" fill="#1d5d78" stroke="#0d2f40" stroke-width="0.55"/>
<circle cx="225.6" cy="641" r="1.35" fill="#1d5d78" stroke="#0d2f40" stroke-width="0.55"/>
<circle cx="224.4" cy="658" r="1.35" fill="#1d5d78" stroke="#0d2f40" stroke-width="0.55"/>
<circle cx="224.4" cy="664.7" r="1.35" fill="#1d5d78" stroke="#0d2f40" stroke-width="0.55"/>
<text x="188.8" y="684.3" font-size="6.2" text-anchor="middle" fill="#2b2b2b">Untr</text>
<text x="205.1" y="684.3" font-size="6.2" text-anchor="middle" fill="#2b2b2b">6h</text>
<text x="221.4" y="684.3" font-size="6.2" text-anchor="middle" fill="#2b2b2b">72h</text>
<line x1="183.3" y1="676.2" x2="193.2" y2="676.2" stroke="#7a7a7a" stroke-width="0.9"/>
<line x1="200.8" y1="676.2" x2="209.8" y2="676.2" stroke="#7a7a7a" stroke-width="0.9"/>
<line x1="217.2" y1="676.2" x2="226.7" y2="676.2" stroke="#7a7a7a" stroke-width="0.9"/>
<line x1="200.6" y1="689.2" x2="227.1" y2="689.2" stroke="#7a7a7a" stroke-width="0.9"/>
<text x="213.8" y="697.9" font-size="6.2" text-anchor="middle" fill="#2b2b2b">post-IR</text>
<line x1="251.3" y1="612.3" x2="251.3" y2="670" stroke="#1a1a1a" stroke-width="1.3"/>
<line x1="248.3" y1="670" x2="251.3" y2="670" stroke="#1a1a1a" stroke-width="1"/>
<text x="245.3" y="672.9" font-size="6.4" text-anchor="end" fill="#2b2b2b">0</text>
<line x1="248.3" y1="655.95" x2="251.3" y2="655.95" stroke="#1a1a1a" stroke-width="1"/>
<text x="245.3" y="658.85" font-size="6.4" text-anchor="end" fill="#2b2b2b">0.05</text>
<line x1="248.3" y1="641.9" x2="251.3" y2="641.9" stroke="#1a1a1a" stroke-width="1"/>
<text x="245.3" y="644.8" font-size="6.4" text-anchor="end" fill="#2b2b2b">0.10</text>
<line x1="248.3" y1="627.85" x2="251.3" y2="627.85" stroke="#1a1a1a" stroke-width="1"/>
<text x="245.3" y="630.75" font-size="6.4" text-anchor="end" fill="#2b2b2b">0.15</text>
<line x1="248.3" y1="613.8" x2="251.3" y2="613.8" stroke="#1a1a1a" stroke-width="1"/>
<text x="245.3" y="616.7" font-size="6.4" text-anchor="end" fill="#2b2b2b">0.20</text>
<line x1="250.7" y1="670" x2="299.8" y2="670" stroke="#1a1a1a" stroke-width="1.4"/>
<text x="275.6" y="606.1" font-size="8.6" text-anchor="middle" fill="#2b2b2b" font-style="italic">Sca1</text>
<circle cx="255.8" cy="661.3" r="1.35" fill="#731326" stroke="#33060f" stroke-width="0.55"/>
<circle cx="254.26" cy="663" r="1.35" fill="#731326" stroke="#33060f" stroke-width="0.55"/>
<circle cx="255.8" cy="664.5" r="1.35" fill="#731326" stroke="#33060f" stroke-width="0.55"/>
<circle cx="252.72" cy="665.5" r="1.35" fill="#731326" stroke="#33060f" stroke-width="0.55"/>
<circle cx="262.6" cy="661.3" r="1.35" fill="#1d5d78" stroke="#0d2f40" stroke-width="0.55"/>
<circle cx="262.6" cy="663.5" r="1.35" fill="#1d5d78" stroke="#0d2f40" stroke-width="0.55"/>
<circle cx="261.06" cy="665" r="1.35" fill="#1d5d78" stroke="#0d2f40" stroke-width="0.55"/>
<circle cx="262.6" cy="666.3" r="1.35" fill="#1d5d78" stroke="#0d2f40" stroke-width="0.55"/>
<circle cx="272.5" cy="645.5" r="1.35" fill="#731326" stroke="#33060f" stroke-width="0.55"/>
<circle cx="270.96" cy="647" r="1.35" fill="#731326" stroke="#33060f" stroke-width="0.55"/>
<circle cx="272.5" cy="648.8" r="1.35" fill="#731326" stroke="#33060f" stroke-width="0.55"/>
<circle cx="272.5" cy="654.5" r="1.35" fill="#731326" stroke="#33060f" stroke-width="0.55"/>
<line x1="278.9" y1="645.5" x2="278.9" y2="650.5" stroke="#6e6e6e" stroke-width="0.8"/>
<line x1="276.1" y1="648" x2="281.7" y2="648" stroke="#6e6e6e" stroke-width="0.8"/>
<circle cx="278.9" cy="643" r="1.35" fill="#1d5d78" stroke="#0d2f40" stroke-width="0.55"/>
<circle cx="278.9" cy="648" r="1.35" fill="#1d5d78" stroke="#0d2f40" stroke-width="0.55"/>
<circle cx="278.9" cy="653" r="1.35" fill="#1d5d78" stroke="#0d2f40" stroke-width="0.55"/>
<line x1="288.3" y1="633" x2="288.3" y2="647" stroke="#6e6e6e" stroke-width="0.8"/>
<line x1="285.5" y1="640" x2="291.1" y2="640" stroke="#6e6e6e" stroke-width="0.8"/>
<circle cx="288.3" cy="625" r="1.35" fill="#731326" stroke="#33060f" stroke-width="0.55"/>
<circle cx="288.3" cy="635" r="1.35" fill="#731326" stroke="#33060f" stroke-width="0.55"/>
<circle cx="288.3" cy="638.3" r="1.35" fill="#731326" stroke="#33060f" stroke-width="0.55"/>
<circle cx="288.3" cy="654.5" r="1.35" fill="#731326" stroke="#33060f" stroke-width="0.55"/>
<circle cx="285.22" cy="655" r="1.35" fill="#731326" stroke="#33060f" stroke-width="0.55"/>
<line x1="294.9" y1="639" x2="294.9" y2="651" stroke="#6e6e6e" stroke-width="0.8"/>
<line x1="292.1" y1="645" x2="297.7" y2="645" stroke="#6e6e6e" stroke-width="0.8"/>
<circle cx="294.9" cy="625" r="1.35" fill="#1d5d78" stroke="#0d2f40" stroke-width="0.55"/>
<circle cx="294.9" cy="635" r="1.35" fill="#1d5d78" stroke="#0d2f40" stroke-width="0.55"/>
<circle cx="294.9" cy="648.8" r="1.35" fill="#1d5d78" stroke="#0d2f40" stroke-width="0.55"/>
<circle cx="294.9" cy="650.8" r="1.35" fill="#1d5d78" stroke="#0d2f40" stroke-width="0.55"/>
<circle cx="294.9" cy="655" r="1.35" fill="#1d5d78" stroke="#0d2f40" stroke-width="0.55"/>
<text x="259.3" y="684.3" font-size="6.2" text-anchor="middle" fill="#2b2b2b">Untr</text>
<text x="275.6" y="684.3" font-size="6.2" text-anchor="middle" fill="#2b2b2b">6h</text>
<text x="291.9" y="684.3" font-size="6.2" text-anchor="middle" fill="#2b2b2b">72h</text>
<line x1="253.8" y1="676.2" x2="263.7" y2="676.2" stroke="#7a7a7a" stroke-width="0.9"/>
<line x1="271.3" y1="676.2" x2="280.3" y2="676.2" stroke="#7a7a7a" stroke-width="0.9"/>
<line x1="287.7" y1="676.2" x2="297.2" y2="676.2" stroke="#7a7a7a" stroke-width="0.9"/>
<line x1="271.1" y1="689.2" x2="297.6" y2="689.2" stroke="#7a7a7a" stroke-width="0.9"/>
<text x="284.3" y="697.9" font-size="6.2" text-anchor="middle" fill="#2b2b2b">post-IR</text>
<line x1="323" y1="612.3" x2="323" y2="670" stroke="#1a1a1a" stroke-width="1.3"/>
<line x1="320" y1="670" x2="323" y2="670" stroke="#1a1a1a" stroke-width="1"/>
<text x="317" y="672.9" font-size="6.4" text-anchor="end" fill="#2b2b2b">0</text>
<line x1="320" y1="651.27" x2="323" y2="651.27" stroke="#1a1a1a" stroke-width="1"/>
<text x="317" y="654.17" font-size="6.4" text-anchor="end" fill="#2b2b2b">0.5</text>
<line x1="320" y1="632.53" x2="323" y2="632.53" stroke="#1a1a1a" stroke-width="1"/>
<text x="317" y="635.44" font-size="6.4" text-anchor="end" fill="#2b2b2b">1.0</text>
<line x1="320" y1="613.8" x2="323" y2="613.8" stroke="#1a1a1a" stroke-width="1"/>
<text x="317" y="616.7" font-size="6.4" text-anchor="end" fill="#2b2b2b">1.5</text>
<line x1="322.4" y1="670" x2="371.5" y2="670" stroke="#1a1a1a" stroke-width="1.4"/>
<text x="348.3" y="606.1" font-size="8.6" text-anchor="middle" fill="#2b2b2b" font-style="italic">Irf7</text>
<line x1="327.5" y1="660.5" x2="327.5" y2="667" stroke="#6e6e6e" stroke-width="0.8"/>
<line x1="324.7" y1="663.8" x2="330.3" y2="663.8" stroke="#6e6e6e" stroke-width="0.8"/>
<circle cx="328.3" cy="654.4" r="1.35" fill="#731326" stroke="#33060f" stroke-width="0.55"/>
<circle cx="328.3" cy="659" r="1.35" fill="#731326" stroke="#33060f" stroke-width="0.55"/>
<circle cx="326.1" cy="665.6" r="1.35" fill="#731326" stroke="#33060f" stroke-width="0.55"/>
<circle cx="327.9" cy="666.6" r="1.35" fill="#731326" stroke="#33060f" stroke-width="0.55"/>
<circle cx="329.3" cy="667.4" r="1.35" fill="#731326" stroke="#33060f" stroke-width="0.55"/>
<circle cx="326.9" cy="667.2" r="1.35" fill="#731326" stroke="#33060f" stroke-width="0.55"/>
<circle cx="334.3" cy="668.3" r="1.35" fill="#1d5d78" stroke="#0d2f40" stroke-width="0.55"/>
<line x1="344.2" y1="642.5" x2="344.2" y2="652.5" stroke="#6e6e6e" stroke-width="0.8"/>
<line x1="341.4" y1="647.5" x2="347" y2="647.5" stroke="#6e6e6e" stroke-width="0.8"/>
<circle cx="344.2" cy="629.5" r="1.35" fill="#731326" stroke="#33060f" stroke-width="0.55"/>
<circle cx="344.2" cy="638.8" r="1.35" fill="#731326" stroke="#33060f" stroke-width="0.55"/>
<circle cx="344.2" cy="647.5" r="1.35" fill="#731326" stroke="#33060f" stroke-width="0.55"/>
<circle cx="344.2" cy="649.5" r="1.35" fill="#731326" stroke="#33060f" stroke-width="0.55"/>
<circle cx="344.2" cy="655" r="1.35" fill="#731326" stroke="#33060f" stroke-width="0.55"/>
<circle cx="344.2" cy="658.8" r="1.35" fill="#731326" stroke="#33060f" stroke-width="0.55"/>
<line x1="350.6" y1="643.8" x2="350.6" y2="658.8" stroke="#6e6e6e" stroke-width="0.8"/>
<line x1="347.8" y1="651.3" x2="353.4" y2="651.3" stroke="#6e6e6e" stroke-width="0.8"/>
<circle cx="350.6" cy="636.3" r="1.35" fill="#1d5d78" stroke="#0d2f40" stroke-width="0.55"/>
<circle cx="350.6" cy="658.3" r="1.35" fill="#1d5d78" stroke="#0d2f40" stroke-width="0.55"/>
<circle cx="347.52" cy="658.8" r="1.35" fill="#1d5d78" stroke="#0d2f40" stroke-width="0.55"/>
<circle cx="360" cy="668.8" r="1.35" fill="#731326" stroke="#33060f" stroke-width="0.55"/>
<circle cx="366.6" cy="668.8" r="1.35" fill="#1d5d78" stroke="#0d2f40" stroke-width="0.55"/>
<text x="331" y="684.3" font-size="6.2" text-anchor="middle" fill="#2b2b2b">Untr</text>
<text x="347.3" y="684.3" font-size="6.2" text-anchor="middle" fill="#2b2b2b">6h</text>
<text x="363.6" y="684.3" font-size="6.2" text-anchor="middle" fill="#2b2b2b">72h</text>
<line x1="325.5" y1="676.2" x2="335.4" y2="676.2" stroke="#7a7a7a" stroke-width="0.9"/>
<line x1="343" y1="676.2" x2="352" y2="676.2" stroke="#7a7a7a" stroke-width="0.9"/>
<line x1="359.4" y1="676.2" x2="368.9" y2="676.2" stroke="#7a7a7a" stroke-width="0.9"/>
<line x1="342.8" y1="689.2" x2="369.3" y2="689.2" stroke="#7a7a7a" stroke-width="0.9"/>
<text x="356" y="697.9" font-size="6.2" text-anchor="middle" fill="#2b2b2b">post-IR</text>
<line x1="390" y1="612.3" x2="390" y2="670" stroke="#1a1a1a" stroke-width="1.3"/>
<line x1="387" y1="670" x2="390" y2="670" stroke="#1a1a1a" stroke-width="1"/>
<text x="384" y="672.9" font-size="6.4" text-anchor="end" fill="#2b2b2b">0</text>
<line x1="387" y1="655.95" x2="390" y2="655.95" stroke="#1a1a1a" stroke-width="1"/>
<text x="384" y="658.85" font-size="6.4" text-anchor="end" fill="#2b2b2b">0.1</text>
<line x1="387" y1="641.9" x2="390" y2="641.9" stroke="#1a1a1a" stroke-width="1"/>
<text x="384" y="644.8" font-size="6.4" text-anchor="end" fill="#2b2b2b">0.2</text>
<line x1="387" y1="627.85" x2="390" y2="627.85" stroke="#1a1a1a" stroke-width="1"/>
<text x="384" y="630.75" font-size="6.4" text-anchor="end" fill="#2b2b2b">0.3</text>
<line x1="387" y1="613.8" x2="390" y2="613.8" stroke="#1a1a1a" stroke-width="1"/>
<text x="384" y="616.7" font-size="6.4" text-anchor="end" fill="#2b2b2b">0.4</text>
<line x1="389.4" y1="670" x2="438.5" y2="670" stroke="#1a1a1a" stroke-width="1.4"/>
<text x="415" y="606.1" font-size="8.6" text-anchor="middle" fill="#2b2b2b" font-style="italic">Ifit2</text>
<circle cx="394.5" cy="662.5" r="1.35" fill="#731326" stroke="#33060f" stroke-width="0.55"/>
<circle cx="392.96" cy="663.8" r="1.35" fill="#731326" stroke="#33060f" stroke-width="0.55"/>
<circle cx="394.5" cy="665.2" r="1.35" fill="#731326" stroke="#33060f" stroke-width="0.55"/>
<circle cx="392.96" cy="666.5" r="1.35" fill="#731326" stroke="#33060f" stroke-width="0.55"/>
<circle cx="401.3" cy="667.4" r="1.35" fill="#1d5d78" stroke="#0d2f40" stroke-width="0.55"/>
<circle cx="399.76" cy="668.7" r="1.35" fill="#1d5d78" stroke="#0d2f40" stroke-width="0.55"/>
<line x1="411.2" y1="641" x2="411.2" y2="653" stroke="#6e6e6e" stroke-width="0.8"/>
<line x1="408.4" y1="646.4" x2="414" y2="646.4" stroke="#6e6e6e" stroke-width="0.8"/>
<circle cx="411.2" cy="622.9" r="1.35" fill="#731326" stroke="#33060f" stroke-width="0.55"/>
<circle cx="411.2" cy="640.2" r="1.35" fill="#731326" stroke="#33060f" stroke-width="0.55"/>
<circle cx="411.2" cy="643.7" r="1.35" fill="#731326" stroke="#33060f" stroke-width="0.55"/>
<circle cx="411.2" cy="655.8" r="1.35" fill="#731326" stroke="#33060f" stroke-width="0.55"/>
<circle cx="409.66" cy="657.1" r="1.35" fill="#731326" stroke="#33060f" stroke-width="0.55"/>
<line x1="417.6" y1="646" x2="417.6" y2="657" stroke="#6e6e6e" stroke-width="0.8"/>
<line x1="414.8" y1="651.7" x2="420.4" y2="651.7" stroke="#6e6e6e" stroke-width="0.8"/>
<circle cx="417.6" cy="641.5" r="1.35" fill="#1d5d78" stroke="#0d2f40" stroke-width="0.55"/>
<circle cx="417.6" cy="651.7" r="1.35" fill="#1d5d78" stroke="#0d2f40" stroke-width="0.55"/>
<circle cx="417.6" cy="661.7" r="1.35" fill="#1d5d78" stroke="#0d2f40" stroke-width="0.55"/>
<circle cx="427" cy="667.4" r="1.35" fill="#731326" stroke="#33060f" stroke-width="0.55"/>
<circle cx="425.46" cy="668.7" r="1.35" fill="#731326" stroke="#33060f" stroke-width="0.55"/>
<circle cx="433.6" cy="666.5" r="1.35" fill="#1d5d78" stroke="#0d2f40" stroke-width="0.55"/>
<circle cx="432.06" cy="668" r="1.35" fill="#1d5d78" stroke="#0d2f40" stroke-width="0.55"/>
<text x="398" y="684.3" font-size="6.2" text-anchor="middle" fill="#2b2b2b">Untr</text>
<text x="414.3" y="684.3" font-size="6.2" text-anchor="middle" fill="#2b2b2b">6h</text>
<text x="430.6" y="684.3" font-size="6.2" text-anchor="middle" fill="#2b2b2b">72h</text>
<line x1="392.5" y1="676.2" x2="402.4" y2="676.2" stroke="#7a7a7a" stroke-width="0.9"/>
<line x1="410" y1="676.2" x2="419" y2="676.2" stroke="#7a7a7a" stroke-width="0.9"/>
<line x1="426.4" y1="676.2" x2="435.9" y2="676.2" stroke="#7a7a7a" stroke-width="0.9"/>
<line x1="409.8" y1="689.2" x2="436.3" y2="689.2" stroke="#7a7a7a" stroke-width="0.9"/>
<text x="423" y="697.9" font-size="6.2" text-anchor="middle" fill="#2b2b2b">post-IR</text>
<line x1="460.2" y1="612.3" x2="460.2" y2="670" stroke="#1a1a1a" stroke-width="1.3"/>
<line x1="457.2" y1="670" x2="460.2" y2="670" stroke="#1a1a1a" stroke-width="1"/>
<text x="454.2" y="672.9" font-size="6.4" text-anchor="end" fill="#2b2b2b">0</text>
<line x1="457.2" y1="658.76" x2="460.2" y2="658.76" stroke="#1a1a1a" stroke-width="1"/>
<text x="454.2" y="661.66" font-size="6.4" text-anchor="end" fill="#2b2b2b">0.01</text>
<line x1="457.2" y1="647.52" x2="460.2" y2="647.52" stroke="#1a1a1a" stroke-width="1"/>
<text x="454.2" y="650.42" font-size="6.4" text-anchor="end" fill="#2b2b2b">0.02</text>
<line x1="457.2" y1="636.28" x2="460.2" y2="636.28" stroke="#1a1a1a" stroke-width="1"/>
<text x="454.2" y="639.18" font-size="6.4" text-anchor="end" fill="#2b2b2b">0.03</text>
<line x1="457.2" y1="625.04" x2="460.2" y2="625.04" stroke="#1a1a1a" stroke-width="1"/>
<text x="454.2" y="627.94" font-size="6.4" text-anchor="end" fill="#2b2b2b">0.04</text>
<line x1="457.2" y1="613.8" x2="460.2" y2="613.8" stroke="#1a1a1a" stroke-width="1"/>
<text x="454.2" y="616.7" font-size="6.4" text-anchor="end" fill="#2b2b2b">0.05</text>
<line x1="459.6" y1="670" x2="508.7" y2="670" stroke="#1a1a1a" stroke-width="1.4"/>
<text x="486.4" y="606.1" font-size="8.6" text-anchor="middle" fill="#2b2b2b" font-style="italic">Cxcl9</text>
<circle cx="464.7" cy="655.2" r="1.35" fill="#731326" stroke="#33060f" stroke-width="0.55"/>
<circle cx="464.7" cy="661.7" r="1.35" fill="#731326" stroke="#33060f" stroke-width="0.55"/>
<circle cx="464.7" cy="663.9" r="1.35" fill="#731326" stroke="#33060f" stroke-width="0.55"/>
<circle cx="463.16" cy="665.2" r="1.35" fill="#731326" stroke="#33060f" stroke-width="0.55"/>
<circle cx="464.7" cy="666.5" r="1.35" fill="#731326" stroke="#33060f" stroke-width="0.55"/>
<circle cx="471.5" cy="661.7" r="1.35" fill="#1d5d78" stroke="#0d2f40" stroke-width="0.55"/>
<circle cx="471.5" cy="665.2" r="1.35" fill="#1d5d78" stroke="#0d2f40" stroke-width="0.55"/>
<circle cx="471.5" cy="667.9" r="1.35" fill="#1d5d78" stroke="#0d2f40" stroke-width="0.55"/>
<circle cx="481.4" cy="651.2" r="1.35" fill="#731326" stroke="#33060f" stroke-width="0.55"/>
<circle cx="481.4" cy="654.4" r="1.35" fill="#731326" stroke="#33060f" stroke-width="0.55"/>
<circle cx="479.86" cy="656.3" r="1.35" fill="#731326" stroke="#33060f" stroke-width="0.55"/>
<circle cx="481.4" cy="660.6" r="1.35" fill="#731326" stroke="#33060f" stroke-width="0.55"/>
<circle cx="478.32" cy="661.7" r="1.35" fill="#731326" stroke="#33060f" stroke-width="0.55"/>
<line x1="487.8" y1="658.5" x2="487.8" y2="662.5" stroke="#6e6e6e" stroke-width="0.8"/>
<line x1="485" y1="660.6" x2="490.6" y2="660.6" stroke="#6e6e6e" stroke-width="0.8"/>
<circle cx="487.8" cy="656.6" r="1.35" fill="#1d5d78" stroke="#0d2f40" stroke-width="0.55"/>
<circle cx="487.8" cy="659.8" r="1.35" fill="#1d5d78" stroke="#0d2f40" stroke-width="0.55"/>
<circle cx="487.8" cy="663.9" r="1.35" fill="#1d5d78" stroke="#0d2f40" stroke-width="0.55"/>
<line x1="497.2" y1="650" x2="497.2" y2="656" stroke="#6e6e6e" stroke-width="0.8"/>
<line x1="494.4" y1="653" x2="500" y2="653" stroke="#6e6e6e" stroke-width="0.8"/>
<circle cx="497.2" cy="645" r="1.35" fill="#731326" stroke="#33060f" stroke-width="0.55"/>
<circle cx="497.2" cy="653.1" r="1.35" fill="#731326" stroke="#33060f" stroke-width="0.55"/>
<circle cx="495.66" cy="654.4" r="1.35" fill="#731326" stroke="#33060f" stroke-width="0.55"/>
<circle cx="497.2" cy="660.6" r="1.35" fill="#731326" stroke="#33060f" stroke-width="0.55"/>
<line x1="503.8" y1="632.9" x2="503.8" y2="645.5" stroke="#6e6e6e" stroke-width="0.8"/>
<line x1="501" y1="639.6" x2="506.6" y2="639.6" stroke="#6e6e6e" stroke-width="0.8"/>
<circle cx="503.8" cy="619.4" r="1.35" fill="#1d5d78" stroke="#0d2f40" stroke-width="0.55"/>
<circle cx="503.8" cy="635.6" r="1.35" fill="#1d5d78" stroke="#0d2f40" stroke-width="0.55"/>
<circle cx="503.8" cy="640.2" r="1.35" fill="#1d5d78" stroke="#0d2f40" stroke-width="0.55"/>
<circle cx="503.8" cy="644.5" r="1.35" fill="#1d5d78" stroke="#0d2f40" stroke-width="0.55"/>
<circle cx="503.8" cy="655" r="1.35" fill="#1d5d78" stroke="#0d2f40" stroke-width="0.55"/>
<text x="468.2" y="684.3" font-size="6.2" text-anchor="middle" fill="#2b2b2b">Untr</text>
<text x="484.5" y="684.3" font-size="6.2" text-anchor="middle" fill="#2b2b2b">6h</text>
<text x="500.8" y="684.3" font-size="6.2" text-anchor="middle" fill="#2b2b2b">72h</text>
<line x1="462.7" y1="676.2" x2="472.6" y2="676.2" stroke="#7a7a7a" stroke-width="0.9"/>
<line x1="480.2" y1="676.2" x2="489.2" y2="676.2" stroke="#7a7a7a" stroke-width="0.9"/>
<line x1="496.6" y1="676.2" x2="506.1" y2="676.2" stroke="#7a7a7a" stroke-width="0.9"/>
<line x1="480" y1="689.2" x2="506.5" y2="689.2" stroke="#7a7a7a" stroke-width="0.9"/>
<text x="493.2" y="697.9" font-size="6.2" text-anchor="middle" fill="#2b2b2b">post-IR</text>
</svg>
</body></html>
